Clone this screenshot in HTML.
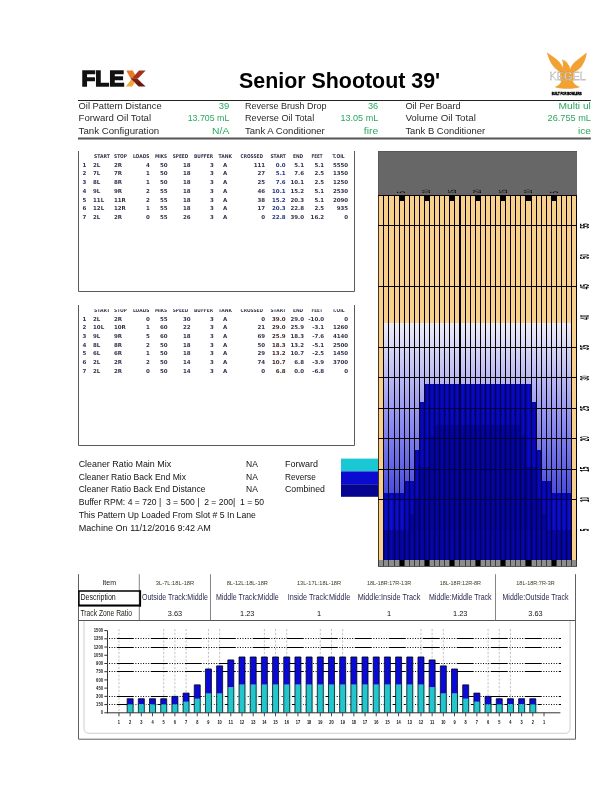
<!DOCTYPE html>
<html><head><meta charset="utf-8"><title>Senior Shootout 39'</title>
<style>
html,body{margin:0;padding:0;background:#fff;}
body{width:612px;height:792px;overflow:hidden;position:relative;font-family:"Liberation Sans", Arial, sans-serif;}
svg{position:absolute;left:0;top:0;will-change:transform;}
</style></head><body>
<svg width="612" height="792" viewBox="0 0 612 792" font-family="Liberation Sans, Arial, sans-serif">
<text x="78.60" y="109.00" font-size="9.0" fill="#2a2a2a" text-anchor="start" textLength="83.10" lengthAdjust="spacingAndGlyphs">Oil Pattern Distance</text>
<text x="229.30" y="109.00" font-size="9.0" fill="#2aa760" text-anchor="end" textLength="10.50" lengthAdjust="spacingAndGlyphs">39</text>
<text x="245.00" y="109.00" font-size="9.0" fill="#2a2a2a" text-anchor="start" textLength="81.50" lengthAdjust="spacingAndGlyphs">Reverse Brush Drop</text>
<text x="378.20" y="109.00" font-size="9.0" fill="#2aa760" text-anchor="end" textLength="10.20" lengthAdjust="spacingAndGlyphs">36</text>
<text x="405.40" y="109.00" font-size="9.0" fill="#2a2a2a" text-anchor="start" textLength="55.20" lengthAdjust="spacingAndGlyphs">Oil Per Board</text>
<text x="590.90" y="109.00" font-size="9.0" fill="#2aa760" text-anchor="end" textLength="32.50" lengthAdjust="spacingAndGlyphs">Multi ul</text>
<text x="78.60" y="121.00" font-size="9.0" fill="#2a2a2a" text-anchor="start" textLength="72.50" lengthAdjust="spacingAndGlyphs">Forward Oil Total</text>
<text x="229.30" y="121.00" font-size="9.0" fill="#2aa760" text-anchor="end" textLength="41.60" lengthAdjust="spacingAndGlyphs">13.705 mL</text>
<text x="245.00" y="121.00" font-size="9.0" fill="#2a2a2a" text-anchor="start" textLength="69.20" lengthAdjust="spacingAndGlyphs">Reverse Oil Total</text>
<text x="378.20" y="121.00" font-size="9.0" fill="#2aa760" text-anchor="end" textLength="37.70" lengthAdjust="spacingAndGlyphs">13.05 mL</text>
<text x="405.40" y="121.00" font-size="9.0" fill="#2a2a2a" text-anchor="start" textLength="70.50" lengthAdjust="spacingAndGlyphs">Volume Oil Total</text>
<text x="590.90" y="121.00" font-size="9.0" fill="#2aa760" text-anchor="end" textLength="43.30" lengthAdjust="spacingAndGlyphs">26.755 mL</text>
<text x="78.60" y="133.60" font-size="9.0" fill="#2a2a2a" text-anchor="start" textLength="80.60" lengthAdjust="spacingAndGlyphs">Tank Configuration</text>
<text x="229.30" y="133.60" font-size="9.0" fill="#2aa760" text-anchor="end" textLength="17.20" lengthAdjust="spacingAndGlyphs">N/A</text>
<text x="245.00" y="133.60" font-size="9.0" fill="#2a2a2a" text-anchor="start" textLength="79.80" lengthAdjust="spacingAndGlyphs">Tank A Conditioner</text>
<text x="378.20" y="133.60" font-size="9.0" fill="#2aa760" text-anchor="end" textLength="14.40" lengthAdjust="spacingAndGlyphs">fire</text>
<text x="405.40" y="133.60" font-size="9.0" fill="#2a2a2a" text-anchor="start" textLength="79.70" lengthAdjust="spacingAndGlyphs">Tank B Conditioner</text>
<text x="590.90" y="133.60" font-size="9.0" fill="#2aa760" text-anchor="end" textLength="13.00" lengthAdjust="spacingAndGlyphs">ice</text>
<line x1="78.00" y1="100.50" x2="590.80" y2="100.50" stroke="#222" stroke-width="1" />
<line x1="78.00" y1="138.60" x2="590.80" y2="138.60" stroke="#555" stroke-width="2" />
<text x="239.00" y="88.10" font-size="21.4" fill="#000" text-anchor="start" font-weight="bold" >Senior Shootout 39'</text>
<text x="93.90" y="158.20" font-size="5.3" fill="#34344f" font-weight="bold" font-family="DejaVu Sans, Verdana, sans-serif" textLength="15.90" lengthAdjust="spacingAndGlyphs">START</text>
<text x="114.00" y="158.20" font-size="5.3" fill="#34344f" font-weight="bold" font-family="DejaVu Sans, Verdana, sans-serif" textLength="13.00" lengthAdjust="spacingAndGlyphs">STOP</text>
<text x="132.90" y="158.20" font-size="5.3" fill="#34344f" font-weight="bold" font-family="DejaVu Sans, Verdana, sans-serif" textLength="16.60" lengthAdjust="spacingAndGlyphs">LOADS</text>
<text x="155.00" y="158.20" font-size="5.3" fill="#34344f" font-weight="bold" font-family="DejaVu Sans, Verdana, sans-serif" textLength="12.20" lengthAdjust="spacingAndGlyphs">MIKS</text>
<text x="172.80" y="158.20" font-size="5.3" fill="#34344f" font-weight="bold" font-family="DejaVu Sans, Verdana, sans-serif" textLength="15.50" lengthAdjust="spacingAndGlyphs">SPEED</text>
<text x="194.00" y="158.20" font-size="5.3" fill="#34344f" font-weight="bold" font-family="DejaVu Sans, Verdana, sans-serif" textLength="19.20" lengthAdjust="spacingAndGlyphs">BUFFER</text>
<text x="218.50" y="158.20" font-size="5.3" fill="#34344f" font-weight="bold" font-family="DejaVu Sans, Verdana, sans-serif" textLength="13.50" lengthAdjust="spacingAndGlyphs">TANK</text>
<text x="240.50" y="158.20" font-size="5.3" fill="#34344f" font-weight="bold" font-family="DejaVu Sans, Verdana, sans-serif" textLength="22.50" lengthAdjust="spacingAndGlyphs">CROSSED</text>
<text x="270.40" y="158.20" font-size="5.3" fill="#34344f" font-weight="bold" font-family="DejaVu Sans, Verdana, sans-serif" textLength="15.50" lengthAdjust="spacingAndGlyphs">START</text>
<text x="293.00" y="158.20" font-size="5.3" fill="#34344f" font-weight="bold" font-family="DejaVu Sans, Verdana, sans-serif" textLength="10.20" lengthAdjust="spacingAndGlyphs">END</text>
<text x="311.60" y="158.20" font-size="5.3" fill="#34344f" font-weight="bold" font-family="DejaVu Sans, Verdana, sans-serif" textLength="11.00" lengthAdjust="spacingAndGlyphs">FEET</text>
<text x="332.40" y="158.20" font-size="5.3" fill="#34344f" font-weight="bold" font-family="DejaVu Sans, Verdana, sans-serif" textLength="12.30" lengthAdjust="spacingAndGlyphs">T.OIL</text>
<text x="84.40" y="166.70" font-size="5.5" fill="#34344f" font-weight="bold" text-anchor="middle" font-family="DejaVu Sans, Verdana, sans-serif">1</text>
<text x="93.00" y="166.70" font-size="5.5" fill="#34344f" font-weight="bold" text-anchor="start" font-family="DejaVu Sans, Verdana, sans-serif">2L</text>
<text x="113.90" y="166.70" font-size="5.5" fill="#34344f" font-weight="bold" text-anchor="start" font-family="DejaVu Sans, Verdana, sans-serif">2R</text>
<text x="149.80" y="166.70" font-size="5.5" fill="#34344f" font-weight="bold" text-anchor="end" font-family="DejaVu Sans, Verdana, sans-serif">4</text>
<text x="167.60" y="166.70" font-size="5.5" fill="#34344f" font-weight="bold" text-anchor="end" font-family="DejaVu Sans, Verdana, sans-serif">50</text>
<text x="190.60" y="166.70" font-size="5.5" fill="#34344f" font-weight="bold" text-anchor="end" font-family="DejaVu Sans, Verdana, sans-serif">18</text>
<text x="213.80" y="166.70" font-size="5.5" fill="#34344f" font-weight="bold" text-anchor="end" font-family="DejaVu Sans, Verdana, sans-serif">3</text>
<text x="225.20" y="166.70" font-size="5.5" fill="#34344f" font-weight="bold" text-anchor="middle" font-family="DejaVu Sans, Verdana, sans-serif">A</text>
<text x="265.20" y="166.70" font-size="5.5" fill="#34344f" font-weight="bold" text-anchor="end" font-family="DejaVu Sans, Verdana, sans-serif">111</text>
<text x="285.60" y="166.70" font-size="5.5" fill="#27378a" font-weight="bold" text-anchor="end" font-family="DejaVu Sans, Verdana, sans-serif">0.0</text>
<text x="304.00" y="166.70" font-size="5.5" fill="#34344f" font-weight="bold" text-anchor="end" font-family="DejaVu Sans, Verdana, sans-serif">5.1</text>
<text x="324.20" y="166.70" font-size="5.5" fill="#34344f" font-weight="bold" text-anchor="end" font-family="DejaVu Sans, Verdana, sans-serif">5.1</text>
<text x="348.20" y="166.70" font-size="5.5" fill="#34344f" font-weight="bold" text-anchor="end" font-family="DejaVu Sans, Verdana, sans-serif">5550</text>
<text x="84.40" y="175.42" font-size="5.5" fill="#34344f" font-weight="bold" text-anchor="middle" font-family="DejaVu Sans, Verdana, sans-serif">2</text>
<text x="93.00" y="175.42" font-size="5.5" fill="#34344f" font-weight="bold" text-anchor="start" font-family="DejaVu Sans, Verdana, sans-serif">7L</text>
<text x="113.90" y="175.42" font-size="5.5" fill="#34344f" font-weight="bold" text-anchor="start" font-family="DejaVu Sans, Verdana, sans-serif">7R</text>
<text x="149.80" y="175.42" font-size="5.5" fill="#34344f" font-weight="bold" text-anchor="end" font-family="DejaVu Sans, Verdana, sans-serif">1</text>
<text x="167.60" y="175.42" font-size="5.5" fill="#34344f" font-weight="bold" text-anchor="end" font-family="DejaVu Sans, Verdana, sans-serif">50</text>
<text x="190.60" y="175.42" font-size="5.5" fill="#34344f" font-weight="bold" text-anchor="end" font-family="DejaVu Sans, Verdana, sans-serif">18</text>
<text x="213.80" y="175.42" font-size="5.5" fill="#34344f" font-weight="bold" text-anchor="end" font-family="DejaVu Sans, Verdana, sans-serif">3</text>
<text x="225.20" y="175.42" font-size="5.5" fill="#34344f" font-weight="bold" text-anchor="middle" font-family="DejaVu Sans, Verdana, sans-serif">A</text>
<text x="265.20" y="175.42" font-size="5.5" fill="#34344f" font-weight="bold" text-anchor="end" font-family="DejaVu Sans, Verdana, sans-serif">27</text>
<text x="285.60" y="175.42" font-size="5.5" fill="#27378a" font-weight="bold" text-anchor="end" font-family="DejaVu Sans, Verdana, sans-serif">5.1</text>
<text x="304.00" y="175.42" font-size="5.5" fill="#34344f" font-weight="bold" text-anchor="end" font-family="DejaVu Sans, Verdana, sans-serif">7.6</text>
<text x="324.20" y="175.42" font-size="5.5" fill="#34344f" font-weight="bold" text-anchor="end" font-family="DejaVu Sans, Verdana, sans-serif">2.5</text>
<text x="348.20" y="175.42" font-size="5.5" fill="#34344f" font-weight="bold" text-anchor="end" font-family="DejaVu Sans, Verdana, sans-serif">1350</text>
<text x="84.40" y="184.14" font-size="5.5" fill="#34344f" font-weight="bold" text-anchor="middle" font-family="DejaVu Sans, Verdana, sans-serif">3</text>
<text x="93.00" y="184.14" font-size="5.5" fill="#34344f" font-weight="bold" text-anchor="start" font-family="DejaVu Sans, Verdana, sans-serif">8L</text>
<text x="113.90" y="184.14" font-size="5.5" fill="#34344f" font-weight="bold" text-anchor="start" font-family="DejaVu Sans, Verdana, sans-serif">8R</text>
<text x="149.80" y="184.14" font-size="5.5" fill="#34344f" font-weight="bold" text-anchor="end" font-family="DejaVu Sans, Verdana, sans-serif">1</text>
<text x="167.60" y="184.14" font-size="5.5" fill="#34344f" font-weight="bold" text-anchor="end" font-family="DejaVu Sans, Verdana, sans-serif">50</text>
<text x="190.60" y="184.14" font-size="5.5" fill="#34344f" font-weight="bold" text-anchor="end" font-family="DejaVu Sans, Verdana, sans-serif">18</text>
<text x="213.80" y="184.14" font-size="5.5" fill="#34344f" font-weight="bold" text-anchor="end" font-family="DejaVu Sans, Verdana, sans-serif">3</text>
<text x="225.20" y="184.14" font-size="5.5" fill="#34344f" font-weight="bold" text-anchor="middle" font-family="DejaVu Sans, Verdana, sans-serif">A</text>
<text x="265.20" y="184.14" font-size="5.5" fill="#34344f" font-weight="bold" text-anchor="end" font-family="DejaVu Sans, Verdana, sans-serif">25</text>
<text x="285.60" y="184.14" font-size="5.5" fill="#27378a" font-weight="bold" text-anchor="end" font-family="DejaVu Sans, Verdana, sans-serif">7.6</text>
<text x="304.00" y="184.14" font-size="5.5" fill="#34344f" font-weight="bold" text-anchor="end" font-family="DejaVu Sans, Verdana, sans-serif">10.1</text>
<text x="324.20" y="184.14" font-size="5.5" fill="#34344f" font-weight="bold" text-anchor="end" font-family="DejaVu Sans, Verdana, sans-serif">2.5</text>
<text x="348.20" y="184.14" font-size="5.5" fill="#34344f" font-weight="bold" text-anchor="end" font-family="DejaVu Sans, Verdana, sans-serif">1250</text>
<text x="84.40" y="192.86" font-size="5.5" fill="#34344f" font-weight="bold" text-anchor="middle" font-family="DejaVu Sans, Verdana, sans-serif">4</text>
<text x="93.00" y="192.86" font-size="5.5" fill="#34344f" font-weight="bold" text-anchor="start" font-family="DejaVu Sans, Verdana, sans-serif">9L</text>
<text x="113.90" y="192.86" font-size="5.5" fill="#34344f" font-weight="bold" text-anchor="start" font-family="DejaVu Sans, Verdana, sans-serif">9R</text>
<text x="149.80" y="192.86" font-size="5.5" fill="#34344f" font-weight="bold" text-anchor="end" font-family="DejaVu Sans, Verdana, sans-serif">2</text>
<text x="167.60" y="192.86" font-size="5.5" fill="#34344f" font-weight="bold" text-anchor="end" font-family="DejaVu Sans, Verdana, sans-serif">55</text>
<text x="190.60" y="192.86" font-size="5.5" fill="#34344f" font-weight="bold" text-anchor="end" font-family="DejaVu Sans, Verdana, sans-serif">18</text>
<text x="213.80" y="192.86" font-size="5.5" fill="#34344f" font-weight="bold" text-anchor="end" font-family="DejaVu Sans, Verdana, sans-serif">3</text>
<text x="225.20" y="192.86" font-size="5.5" fill="#34344f" font-weight="bold" text-anchor="middle" font-family="DejaVu Sans, Verdana, sans-serif">A</text>
<text x="265.20" y="192.86" font-size="5.5" fill="#34344f" font-weight="bold" text-anchor="end" font-family="DejaVu Sans, Verdana, sans-serif">46</text>
<text x="285.60" y="192.86" font-size="5.5" fill="#27378a" font-weight="bold" text-anchor="end" font-family="DejaVu Sans, Verdana, sans-serif">10.1</text>
<text x="304.00" y="192.86" font-size="5.5" fill="#34344f" font-weight="bold" text-anchor="end" font-family="DejaVu Sans, Verdana, sans-serif">15.2</text>
<text x="324.20" y="192.86" font-size="5.5" fill="#34344f" font-weight="bold" text-anchor="end" font-family="DejaVu Sans, Verdana, sans-serif">5.1</text>
<text x="348.20" y="192.86" font-size="5.5" fill="#34344f" font-weight="bold" text-anchor="end" font-family="DejaVu Sans, Verdana, sans-serif">2530</text>
<text x="84.40" y="201.58" font-size="5.5" fill="#34344f" font-weight="bold" text-anchor="middle" font-family="DejaVu Sans, Verdana, sans-serif">5</text>
<text x="93.00" y="201.58" font-size="5.5" fill="#34344f" font-weight="bold" text-anchor="start" font-family="DejaVu Sans, Verdana, sans-serif">11L</text>
<text x="113.90" y="201.58" font-size="5.5" fill="#34344f" font-weight="bold" text-anchor="start" font-family="DejaVu Sans, Verdana, sans-serif">11R</text>
<text x="149.80" y="201.58" font-size="5.5" fill="#34344f" font-weight="bold" text-anchor="end" font-family="DejaVu Sans, Verdana, sans-serif">2</text>
<text x="167.60" y="201.58" font-size="5.5" fill="#34344f" font-weight="bold" text-anchor="end" font-family="DejaVu Sans, Verdana, sans-serif">55</text>
<text x="190.60" y="201.58" font-size="5.5" fill="#34344f" font-weight="bold" text-anchor="end" font-family="DejaVu Sans, Verdana, sans-serif">18</text>
<text x="213.80" y="201.58" font-size="5.5" fill="#34344f" font-weight="bold" text-anchor="end" font-family="DejaVu Sans, Verdana, sans-serif">3</text>
<text x="225.20" y="201.58" font-size="5.5" fill="#34344f" font-weight="bold" text-anchor="middle" font-family="DejaVu Sans, Verdana, sans-serif">A</text>
<text x="265.20" y="201.58" font-size="5.5" fill="#34344f" font-weight="bold" text-anchor="end" font-family="DejaVu Sans, Verdana, sans-serif">38</text>
<text x="285.60" y="201.58" font-size="5.5" fill="#27378a" font-weight="bold" text-anchor="end" font-family="DejaVu Sans, Verdana, sans-serif">15.2</text>
<text x="304.00" y="201.58" font-size="5.5" fill="#34344f" font-weight="bold" text-anchor="end" font-family="DejaVu Sans, Verdana, sans-serif">20.3</text>
<text x="324.20" y="201.58" font-size="5.5" fill="#34344f" font-weight="bold" text-anchor="end" font-family="DejaVu Sans, Verdana, sans-serif">5.1</text>
<text x="348.20" y="201.58" font-size="5.5" fill="#34344f" font-weight="bold" text-anchor="end" font-family="DejaVu Sans, Verdana, sans-serif">2090</text>
<text x="84.40" y="210.30" font-size="5.5" fill="#34344f" font-weight="bold" text-anchor="middle" font-family="DejaVu Sans, Verdana, sans-serif">6</text>
<text x="93.00" y="210.30" font-size="5.5" fill="#34344f" font-weight="bold" text-anchor="start" font-family="DejaVu Sans, Verdana, sans-serif">12L</text>
<text x="113.90" y="210.30" font-size="5.5" fill="#34344f" font-weight="bold" text-anchor="start" font-family="DejaVu Sans, Verdana, sans-serif">12R</text>
<text x="149.80" y="210.30" font-size="5.5" fill="#34344f" font-weight="bold" text-anchor="end" font-family="DejaVu Sans, Verdana, sans-serif">1</text>
<text x="167.60" y="210.30" font-size="5.5" fill="#34344f" font-weight="bold" text-anchor="end" font-family="DejaVu Sans, Verdana, sans-serif">55</text>
<text x="190.60" y="210.30" font-size="5.5" fill="#34344f" font-weight="bold" text-anchor="end" font-family="DejaVu Sans, Verdana, sans-serif">18</text>
<text x="213.80" y="210.30" font-size="5.5" fill="#34344f" font-weight="bold" text-anchor="end" font-family="DejaVu Sans, Verdana, sans-serif">3</text>
<text x="225.20" y="210.30" font-size="5.5" fill="#34344f" font-weight="bold" text-anchor="middle" font-family="DejaVu Sans, Verdana, sans-serif">A</text>
<text x="265.20" y="210.30" font-size="5.5" fill="#34344f" font-weight="bold" text-anchor="end" font-family="DejaVu Sans, Verdana, sans-serif">17</text>
<text x="285.60" y="210.30" font-size="5.5" fill="#27378a" font-weight="bold" text-anchor="end" font-family="DejaVu Sans, Verdana, sans-serif">20.3</text>
<text x="304.00" y="210.30" font-size="5.5" fill="#34344f" font-weight="bold" text-anchor="end" font-family="DejaVu Sans, Verdana, sans-serif">22.8</text>
<text x="324.20" y="210.30" font-size="5.5" fill="#34344f" font-weight="bold" text-anchor="end" font-family="DejaVu Sans, Verdana, sans-serif">2.5</text>
<text x="348.20" y="210.30" font-size="5.5" fill="#34344f" font-weight="bold" text-anchor="end" font-family="DejaVu Sans, Verdana, sans-serif">935</text>
<text x="84.40" y="219.02" font-size="5.5" fill="#34344f" font-weight="bold" text-anchor="middle" font-family="DejaVu Sans, Verdana, sans-serif">7</text>
<text x="93.00" y="219.02" font-size="5.5" fill="#34344f" font-weight="bold" text-anchor="start" font-family="DejaVu Sans, Verdana, sans-serif">2L</text>
<text x="113.90" y="219.02" font-size="5.5" fill="#34344f" font-weight="bold" text-anchor="start" font-family="DejaVu Sans, Verdana, sans-serif">2R</text>
<text x="149.80" y="219.02" font-size="5.5" fill="#34344f" font-weight="bold" text-anchor="end" font-family="DejaVu Sans, Verdana, sans-serif">0</text>
<text x="167.60" y="219.02" font-size="5.5" fill="#34344f" font-weight="bold" text-anchor="end" font-family="DejaVu Sans, Verdana, sans-serif">55</text>
<text x="190.60" y="219.02" font-size="5.5" fill="#34344f" font-weight="bold" text-anchor="end" font-family="DejaVu Sans, Verdana, sans-serif">26</text>
<text x="213.80" y="219.02" font-size="5.5" fill="#34344f" font-weight="bold" text-anchor="end" font-family="DejaVu Sans, Verdana, sans-serif">3</text>
<text x="225.20" y="219.02" font-size="5.5" fill="#34344f" font-weight="bold" text-anchor="middle" font-family="DejaVu Sans, Verdana, sans-serif">A</text>
<text x="265.20" y="219.02" font-size="5.5" fill="#34344f" font-weight="bold" text-anchor="end" font-family="DejaVu Sans, Verdana, sans-serif">0</text>
<text x="285.60" y="219.02" font-size="5.5" fill="#27378a" font-weight="bold" text-anchor="end" font-family="DejaVu Sans, Verdana, sans-serif">22.8</text>
<text x="304.00" y="219.02" font-size="5.5" fill="#34344f" font-weight="bold" text-anchor="end" font-family="DejaVu Sans, Verdana, sans-serif">39.0</text>
<text x="324.20" y="219.02" font-size="5.5" fill="#34344f" font-weight="bold" text-anchor="end" font-family="DejaVu Sans, Verdana, sans-serif">16.2</text>
<text x="348.20" y="219.02" font-size="5.5" fill="#34344f" font-weight="bold" text-anchor="end" font-family="DejaVu Sans, Verdana, sans-serif">0</text>
<clipPath id="hc2"><rect x="0" y="309.2" width="612" height="10"/></clipPath><g clip-path="url(#hc2)">
<text x="93.90" y="312.00" font-size="5.3" fill="#34344f" font-weight="bold" font-family="DejaVu Sans, Verdana, sans-serif" textLength="15.90" lengthAdjust="spacingAndGlyphs">START</text>
<text x="114.00" y="312.00" font-size="5.3" fill="#34344f" font-weight="bold" font-family="DejaVu Sans, Verdana, sans-serif" textLength="13.00" lengthAdjust="spacingAndGlyphs">STOP</text>
<text x="132.90" y="312.00" font-size="5.3" fill="#34344f" font-weight="bold" font-family="DejaVu Sans, Verdana, sans-serif" textLength="16.60" lengthAdjust="spacingAndGlyphs">LOADS</text>
<text x="155.00" y="312.00" font-size="5.3" fill="#34344f" font-weight="bold" font-family="DejaVu Sans, Verdana, sans-serif" textLength="12.20" lengthAdjust="spacingAndGlyphs">MIKS</text>
<text x="172.80" y="312.00" font-size="5.3" fill="#34344f" font-weight="bold" font-family="DejaVu Sans, Verdana, sans-serif" textLength="15.50" lengthAdjust="spacingAndGlyphs">SPEED</text>
<text x="194.00" y="312.00" font-size="5.3" fill="#34344f" font-weight="bold" font-family="DejaVu Sans, Verdana, sans-serif" textLength="19.20" lengthAdjust="spacingAndGlyphs">BUFFER</text>
<text x="218.50" y="312.00" font-size="5.3" fill="#34344f" font-weight="bold" font-family="DejaVu Sans, Verdana, sans-serif" textLength="13.50" lengthAdjust="spacingAndGlyphs">TANK</text>
<text x="240.50" y="312.00" font-size="5.3" fill="#34344f" font-weight="bold" font-family="DejaVu Sans, Verdana, sans-serif" textLength="22.50" lengthAdjust="spacingAndGlyphs">CROSSED</text>
<text x="270.40" y="312.00" font-size="5.3" fill="#34344f" font-weight="bold" font-family="DejaVu Sans, Verdana, sans-serif" textLength="15.50" lengthAdjust="spacingAndGlyphs">START</text>
<text x="293.00" y="312.00" font-size="5.3" fill="#34344f" font-weight="bold" font-family="DejaVu Sans, Verdana, sans-serif" textLength="10.20" lengthAdjust="spacingAndGlyphs">END</text>
<text x="311.60" y="312.00" font-size="5.3" fill="#34344f" font-weight="bold" font-family="DejaVu Sans, Verdana, sans-serif" textLength="11.00" lengthAdjust="spacingAndGlyphs">FEET</text>
<text x="332.40" y="312.00" font-size="5.3" fill="#34344f" font-weight="bold" font-family="DejaVu Sans, Verdana, sans-serif" textLength="12.30" lengthAdjust="spacingAndGlyphs">T.OIL</text>
</g>
<text x="84.40" y="320.50" font-size="5.5" fill="#34344f" font-weight="bold" text-anchor="middle" font-family="DejaVu Sans, Verdana, sans-serif">1</text>
<text x="93.00" y="320.50" font-size="5.5" fill="#34344f" font-weight="bold" text-anchor="start" font-family="DejaVu Sans, Verdana, sans-serif">2L</text>
<text x="113.90" y="320.50" font-size="5.5" fill="#34344f" font-weight="bold" text-anchor="start" font-family="DejaVu Sans, Verdana, sans-serif">2R</text>
<text x="149.80" y="320.50" font-size="5.5" fill="#34344f" font-weight="bold" text-anchor="end" font-family="DejaVu Sans, Verdana, sans-serif">0</text>
<text x="167.60" y="320.50" font-size="5.5" fill="#34344f" font-weight="bold" text-anchor="end" font-family="DejaVu Sans, Verdana, sans-serif">55</text>
<text x="190.60" y="320.50" font-size="5.5" fill="#34344f" font-weight="bold" text-anchor="end" font-family="DejaVu Sans, Verdana, sans-serif">30</text>
<text x="213.80" y="320.50" font-size="5.5" fill="#34344f" font-weight="bold" text-anchor="end" font-family="DejaVu Sans, Verdana, sans-serif">3</text>
<text x="225.20" y="320.50" font-size="5.5" fill="#34344f" font-weight="bold" text-anchor="middle" font-family="DejaVu Sans, Verdana, sans-serif">A</text>
<text x="265.20" y="320.50" font-size="5.5" fill="#34344f" font-weight="bold" text-anchor="end" font-family="DejaVu Sans, Verdana, sans-serif">0</text>
<text x="285.60" y="320.50" font-size="5.5" fill="#4a2a2a" font-weight="bold" text-anchor="end" font-family="DejaVu Sans, Verdana, sans-serif">39.0</text>
<text x="304.00" y="320.50" font-size="5.5" fill="#34344f" font-weight="bold" text-anchor="end" font-family="DejaVu Sans, Verdana, sans-serif">29.0</text>
<text x="324.20" y="320.50" font-size="5.5" fill="#34344f" font-weight="bold" text-anchor="end" font-family="DejaVu Sans, Verdana, sans-serif">-10.0</text>
<text x="348.20" y="320.50" font-size="5.5" fill="#34344f" font-weight="bold" text-anchor="end" font-family="DejaVu Sans, Verdana, sans-serif">0</text>
<text x="84.40" y="329.22" font-size="5.5" fill="#34344f" font-weight="bold" text-anchor="middle" font-family="DejaVu Sans, Verdana, sans-serif">2</text>
<text x="93.00" y="329.22" font-size="5.5" fill="#34344f" font-weight="bold" text-anchor="start" font-family="DejaVu Sans, Verdana, sans-serif">10L</text>
<text x="113.90" y="329.22" font-size="5.5" fill="#34344f" font-weight="bold" text-anchor="start" font-family="DejaVu Sans, Verdana, sans-serif">10R</text>
<text x="149.80" y="329.22" font-size="5.5" fill="#34344f" font-weight="bold" text-anchor="end" font-family="DejaVu Sans, Verdana, sans-serif">1</text>
<text x="167.60" y="329.22" font-size="5.5" fill="#34344f" font-weight="bold" text-anchor="end" font-family="DejaVu Sans, Verdana, sans-serif">60</text>
<text x="190.60" y="329.22" font-size="5.5" fill="#34344f" font-weight="bold" text-anchor="end" font-family="DejaVu Sans, Verdana, sans-serif">22</text>
<text x="213.80" y="329.22" font-size="5.5" fill="#34344f" font-weight="bold" text-anchor="end" font-family="DejaVu Sans, Verdana, sans-serif">3</text>
<text x="225.20" y="329.22" font-size="5.5" fill="#34344f" font-weight="bold" text-anchor="middle" font-family="DejaVu Sans, Verdana, sans-serif">A</text>
<text x="265.20" y="329.22" font-size="5.5" fill="#34344f" font-weight="bold" text-anchor="end" font-family="DejaVu Sans, Verdana, sans-serif">21</text>
<text x="285.60" y="329.22" font-size="5.5" fill="#4a2a2a" font-weight="bold" text-anchor="end" font-family="DejaVu Sans, Verdana, sans-serif">29.0</text>
<text x="304.00" y="329.22" font-size="5.5" fill="#34344f" font-weight="bold" text-anchor="end" font-family="DejaVu Sans, Verdana, sans-serif">25.9</text>
<text x="324.20" y="329.22" font-size="5.5" fill="#34344f" font-weight="bold" text-anchor="end" font-family="DejaVu Sans, Verdana, sans-serif">-3.1</text>
<text x="348.20" y="329.22" font-size="5.5" fill="#34344f" font-weight="bold" text-anchor="end" font-family="DejaVu Sans, Verdana, sans-serif">1260</text>
<text x="84.40" y="337.94" font-size="5.5" fill="#34344f" font-weight="bold" text-anchor="middle" font-family="DejaVu Sans, Verdana, sans-serif">3</text>
<text x="93.00" y="337.94" font-size="5.5" fill="#34344f" font-weight="bold" text-anchor="start" font-family="DejaVu Sans, Verdana, sans-serif">9L</text>
<text x="113.90" y="337.94" font-size="5.5" fill="#34344f" font-weight="bold" text-anchor="start" font-family="DejaVu Sans, Verdana, sans-serif">9R</text>
<text x="149.80" y="337.94" font-size="5.5" fill="#34344f" font-weight="bold" text-anchor="end" font-family="DejaVu Sans, Verdana, sans-serif">5</text>
<text x="167.60" y="337.94" font-size="5.5" fill="#34344f" font-weight="bold" text-anchor="end" font-family="DejaVu Sans, Verdana, sans-serif">60</text>
<text x="190.60" y="337.94" font-size="5.5" fill="#34344f" font-weight="bold" text-anchor="end" font-family="DejaVu Sans, Verdana, sans-serif">18</text>
<text x="213.80" y="337.94" font-size="5.5" fill="#34344f" font-weight="bold" text-anchor="end" font-family="DejaVu Sans, Verdana, sans-serif">3</text>
<text x="225.20" y="337.94" font-size="5.5" fill="#34344f" font-weight="bold" text-anchor="middle" font-family="DejaVu Sans, Verdana, sans-serif">A</text>
<text x="265.20" y="337.94" font-size="5.5" fill="#34344f" font-weight="bold" text-anchor="end" font-family="DejaVu Sans, Verdana, sans-serif">69</text>
<text x="285.60" y="337.94" font-size="5.5" fill="#4a2a2a" font-weight="bold" text-anchor="end" font-family="DejaVu Sans, Verdana, sans-serif">25.9</text>
<text x="304.00" y="337.94" font-size="5.5" fill="#34344f" font-weight="bold" text-anchor="end" font-family="DejaVu Sans, Verdana, sans-serif">18.3</text>
<text x="324.20" y="337.94" font-size="5.5" fill="#34344f" font-weight="bold" text-anchor="end" font-family="DejaVu Sans, Verdana, sans-serif">-7.6</text>
<text x="348.20" y="337.94" font-size="5.5" fill="#34344f" font-weight="bold" text-anchor="end" font-family="DejaVu Sans, Verdana, sans-serif">4140</text>
<text x="84.40" y="346.66" font-size="5.5" fill="#34344f" font-weight="bold" text-anchor="middle" font-family="DejaVu Sans, Verdana, sans-serif">4</text>
<text x="93.00" y="346.66" font-size="5.5" fill="#34344f" font-weight="bold" text-anchor="start" font-family="DejaVu Sans, Verdana, sans-serif">8L</text>
<text x="113.90" y="346.66" font-size="5.5" fill="#34344f" font-weight="bold" text-anchor="start" font-family="DejaVu Sans, Verdana, sans-serif">8R</text>
<text x="149.80" y="346.66" font-size="5.5" fill="#34344f" font-weight="bold" text-anchor="end" font-family="DejaVu Sans, Verdana, sans-serif">2</text>
<text x="167.60" y="346.66" font-size="5.5" fill="#34344f" font-weight="bold" text-anchor="end" font-family="DejaVu Sans, Verdana, sans-serif">50</text>
<text x="190.60" y="346.66" font-size="5.5" fill="#34344f" font-weight="bold" text-anchor="end" font-family="DejaVu Sans, Verdana, sans-serif">18</text>
<text x="213.80" y="346.66" font-size="5.5" fill="#34344f" font-weight="bold" text-anchor="end" font-family="DejaVu Sans, Verdana, sans-serif">3</text>
<text x="225.20" y="346.66" font-size="5.5" fill="#34344f" font-weight="bold" text-anchor="middle" font-family="DejaVu Sans, Verdana, sans-serif">A</text>
<text x="265.20" y="346.66" font-size="5.5" fill="#34344f" font-weight="bold" text-anchor="end" font-family="DejaVu Sans, Verdana, sans-serif">50</text>
<text x="285.60" y="346.66" font-size="5.5" fill="#4a2a2a" font-weight="bold" text-anchor="end" font-family="DejaVu Sans, Verdana, sans-serif">18.3</text>
<text x="304.00" y="346.66" font-size="5.5" fill="#34344f" font-weight="bold" text-anchor="end" font-family="DejaVu Sans, Verdana, sans-serif">13.2</text>
<text x="324.20" y="346.66" font-size="5.5" fill="#34344f" font-weight="bold" text-anchor="end" font-family="DejaVu Sans, Verdana, sans-serif">-5.1</text>
<text x="348.20" y="346.66" font-size="5.5" fill="#34344f" font-weight="bold" text-anchor="end" font-family="DejaVu Sans, Verdana, sans-serif">2500</text>
<text x="84.40" y="355.38" font-size="5.5" fill="#34344f" font-weight="bold" text-anchor="middle" font-family="DejaVu Sans, Verdana, sans-serif">5</text>
<text x="93.00" y="355.38" font-size="5.5" fill="#34344f" font-weight="bold" text-anchor="start" font-family="DejaVu Sans, Verdana, sans-serif">6L</text>
<text x="113.90" y="355.38" font-size="5.5" fill="#34344f" font-weight="bold" text-anchor="start" font-family="DejaVu Sans, Verdana, sans-serif">6R</text>
<text x="149.80" y="355.38" font-size="5.5" fill="#34344f" font-weight="bold" text-anchor="end" font-family="DejaVu Sans, Verdana, sans-serif">1</text>
<text x="167.60" y="355.38" font-size="5.5" fill="#34344f" font-weight="bold" text-anchor="end" font-family="DejaVu Sans, Verdana, sans-serif">50</text>
<text x="190.60" y="355.38" font-size="5.5" fill="#34344f" font-weight="bold" text-anchor="end" font-family="DejaVu Sans, Verdana, sans-serif">18</text>
<text x="213.80" y="355.38" font-size="5.5" fill="#34344f" font-weight="bold" text-anchor="end" font-family="DejaVu Sans, Verdana, sans-serif">3</text>
<text x="225.20" y="355.38" font-size="5.5" fill="#34344f" font-weight="bold" text-anchor="middle" font-family="DejaVu Sans, Verdana, sans-serif">A</text>
<text x="265.20" y="355.38" font-size="5.5" fill="#34344f" font-weight="bold" text-anchor="end" font-family="DejaVu Sans, Verdana, sans-serif">29</text>
<text x="285.60" y="355.38" font-size="5.5" fill="#4a2a2a" font-weight="bold" text-anchor="end" font-family="DejaVu Sans, Verdana, sans-serif">13.2</text>
<text x="304.00" y="355.38" font-size="5.5" fill="#34344f" font-weight="bold" text-anchor="end" font-family="DejaVu Sans, Verdana, sans-serif">10.7</text>
<text x="324.20" y="355.38" font-size="5.5" fill="#34344f" font-weight="bold" text-anchor="end" font-family="DejaVu Sans, Verdana, sans-serif">-2.5</text>
<text x="348.20" y="355.38" font-size="5.5" fill="#34344f" font-weight="bold" text-anchor="end" font-family="DejaVu Sans, Verdana, sans-serif">1450</text>
<text x="84.40" y="364.10" font-size="5.5" fill="#34344f" font-weight="bold" text-anchor="middle" font-family="DejaVu Sans, Verdana, sans-serif">6</text>
<text x="93.00" y="364.10" font-size="5.5" fill="#34344f" font-weight="bold" text-anchor="start" font-family="DejaVu Sans, Verdana, sans-serif">2L</text>
<text x="113.90" y="364.10" font-size="5.5" fill="#34344f" font-weight="bold" text-anchor="start" font-family="DejaVu Sans, Verdana, sans-serif">2R</text>
<text x="149.80" y="364.10" font-size="5.5" fill="#34344f" font-weight="bold" text-anchor="end" font-family="DejaVu Sans, Verdana, sans-serif">2</text>
<text x="167.60" y="364.10" font-size="5.5" fill="#34344f" font-weight="bold" text-anchor="end" font-family="DejaVu Sans, Verdana, sans-serif">50</text>
<text x="190.60" y="364.10" font-size="5.5" fill="#34344f" font-weight="bold" text-anchor="end" font-family="DejaVu Sans, Verdana, sans-serif">14</text>
<text x="213.80" y="364.10" font-size="5.5" fill="#34344f" font-weight="bold" text-anchor="end" font-family="DejaVu Sans, Verdana, sans-serif">3</text>
<text x="225.20" y="364.10" font-size="5.5" fill="#34344f" font-weight="bold" text-anchor="middle" font-family="DejaVu Sans, Verdana, sans-serif">A</text>
<text x="265.20" y="364.10" font-size="5.5" fill="#34344f" font-weight="bold" text-anchor="end" font-family="DejaVu Sans, Verdana, sans-serif">74</text>
<text x="285.60" y="364.10" font-size="5.5" fill="#4a2a2a" font-weight="bold" text-anchor="end" font-family="DejaVu Sans, Verdana, sans-serif">10.7</text>
<text x="304.00" y="364.10" font-size="5.5" fill="#34344f" font-weight="bold" text-anchor="end" font-family="DejaVu Sans, Verdana, sans-serif">6.8</text>
<text x="324.20" y="364.10" font-size="5.5" fill="#34344f" font-weight="bold" text-anchor="end" font-family="DejaVu Sans, Verdana, sans-serif">-3.9</text>
<text x="348.20" y="364.10" font-size="5.5" fill="#34344f" font-weight="bold" text-anchor="end" font-family="DejaVu Sans, Verdana, sans-serif">3700</text>
<text x="84.40" y="372.82" font-size="5.5" fill="#34344f" font-weight="bold" text-anchor="middle" font-family="DejaVu Sans, Verdana, sans-serif">7</text>
<text x="93.00" y="372.82" font-size="5.5" fill="#34344f" font-weight="bold" text-anchor="start" font-family="DejaVu Sans, Verdana, sans-serif">2L</text>
<text x="113.90" y="372.82" font-size="5.5" fill="#34344f" font-weight="bold" text-anchor="start" font-family="DejaVu Sans, Verdana, sans-serif">2R</text>
<text x="149.80" y="372.82" font-size="5.5" fill="#34344f" font-weight="bold" text-anchor="end" font-family="DejaVu Sans, Verdana, sans-serif">0</text>
<text x="167.60" y="372.82" font-size="5.5" fill="#34344f" font-weight="bold" text-anchor="end" font-family="DejaVu Sans, Verdana, sans-serif">50</text>
<text x="190.60" y="372.82" font-size="5.5" fill="#34344f" font-weight="bold" text-anchor="end" font-family="DejaVu Sans, Verdana, sans-serif">14</text>
<text x="213.80" y="372.82" font-size="5.5" fill="#34344f" font-weight="bold" text-anchor="end" font-family="DejaVu Sans, Verdana, sans-serif">3</text>
<text x="225.20" y="372.82" font-size="5.5" fill="#34344f" font-weight="bold" text-anchor="middle" font-family="DejaVu Sans, Verdana, sans-serif">A</text>
<text x="265.20" y="372.82" font-size="5.5" fill="#34344f" font-weight="bold" text-anchor="end" font-family="DejaVu Sans, Verdana, sans-serif">0</text>
<text x="285.60" y="372.82" font-size="5.5" fill="#4a2a2a" font-weight="bold" text-anchor="end" font-family="DejaVu Sans, Verdana, sans-serif">6.8</text>
<text x="304.00" y="372.82" font-size="5.5" fill="#34344f" font-weight="bold" text-anchor="end" font-family="DejaVu Sans, Verdana, sans-serif">0.0</text>
<text x="324.20" y="372.82" font-size="5.5" fill="#34344f" font-weight="bold" text-anchor="end" font-family="DejaVu Sans, Verdana, sans-serif">-6.8</text>
<text x="348.20" y="372.82" font-size="5.5" fill="#34344f" font-weight="bold" text-anchor="end" font-family="DejaVu Sans, Verdana, sans-serif">0</text>
<path d="M78.5 151 V291.5 H354.5 V151" fill="none" stroke="#5a5a5a" stroke-width="1"/>
<path d="M78.5 305 V445.5 H354.5 V305" fill="none" stroke="#5a5a5a" stroke-width="1"/>
<text x="78.70" y="466.80" font-size="8.6" fill="#111" text-anchor="start" textLength="92.40" lengthAdjust="spacingAndGlyphs">Cleaner Ratio Main Mix</text>
<text x="246.10" y="466.80" font-size="8.6" fill="#111" text-anchor="start" textLength="11.80" lengthAdjust="spacingAndGlyphs">NA</text>
<text x="285.00" y="466.80" font-size="8.6" fill="#111" text-anchor="start" textLength="33.00" lengthAdjust="spacingAndGlyphs">Forward</text>
<text x="78.70" y="479.60" font-size="8.6" fill="#111" text-anchor="start" textLength="107.30" lengthAdjust="spacingAndGlyphs">Cleaner Ratio Back End Mix</text>
<text x="246.10" y="479.60" font-size="8.6" fill="#111" text-anchor="start" textLength="11.80" lengthAdjust="spacingAndGlyphs">NA</text>
<text x="285.00" y="479.60" font-size="8.6" fill="#111" text-anchor="start" textLength="30.80" lengthAdjust="spacingAndGlyphs">Reverse</text>
<text x="78.70" y="492.40" font-size="8.6" fill="#111" text-anchor="start" textLength="126.90" lengthAdjust="spacingAndGlyphs">Cleaner Ratio Back End Distance</text>
<text x="246.10" y="492.40" font-size="8.6" fill="#111" text-anchor="start" textLength="11.80" lengthAdjust="spacingAndGlyphs">NA</text>
<text x="285.00" y="492.40" font-size="8.6" fill="#111" text-anchor="start" textLength="39.90" lengthAdjust="spacingAndGlyphs">Combined</text>
<text x="78.70" y="505.40" font-size="8.6" fill="#111" style="white-space:pre" textLength="185.4" lengthAdjust="spacingAndGlyphs">Buffer RPM: 4 = 720 |  3 = 500 |  2 = 200|  1 = 50</text>
<text x="78.70" y="517.80" font-size="8.6" fill="#111" text-anchor="start" textLength="177.20" lengthAdjust="spacingAndGlyphs">This Pattern Up Loaded From Slot # 5 In Lane</text>
<text x="78.70" y="530.60" font-size="8.6" fill="#111" text-anchor="start" textLength="132.10" lengthAdjust="spacingAndGlyphs">Machine On 11/12/2016 9:42 AM</text>
<rect x="341.00" y="458.60" width="37.00" height="12.80" fill="#19c8d2" />
<rect x="341.00" y="471.40" width="37.00" height="12.80" fill="#0a0ad0" />
<rect x="341.00" y="484.20" width="37.00" height="12.60" fill="#05058f" />
<rect x="378.00" y="151.00" width="199.00" height="45.00" fill="#676767" />
<rect x="378.00" y="196.00" width="199.00" height="364.00" fill="#f8d08e" />
<defs><linearGradient id="lav" gradientUnits="userSpaceOnUse" x1="0" y1="323" x2="0" y2="560"><stop offset="-0.0014" stop-color="#ececf8"/><stop offset="0.1526" stop-color="#cbcbf5"/><stop offset="0.4091" stop-color="#8f8ff0"/><stop offset="0.6913" stop-color="#4f51e0"/><stop offset="0.9992" stop-color="#2020d0"/></linearGradient></defs>
<rect x="383" y="323" width="188" height="237" fill="url(#lav)"/>
<rect x="383.00" y="493.00" width="5.00" height="67.00" fill="#0909d6" />
<rect x="383.00" y="500.00" width="5.00" height="30.00" fill="#0e0ee6" />
<rect x="383.00" y="530.00" width="5.00" height="30.00" fill="#0606ba" />
<rect x="388.00" y="493.00" width="6.00" height="67.00" fill="#0909d6" />
<rect x="388.00" y="500.00" width="6.00" height="30.00" fill="#0e0ee6" />
<rect x="388.00" y="530.00" width="6.00" height="30.00" fill="#0606ba" />
<rect x="394.00" y="493.00" width="5.00" height="67.00" fill="#0909d6" />
<rect x="394.00" y="500.00" width="5.00" height="30.00" fill="#0e0ee6" />
<rect x="394.00" y="530.00" width="5.00" height="30.00" fill="#0606ba" />
<rect x="399.00" y="493.00" width="5.00" height="67.00" fill="#0909d6" />
<rect x="399.00" y="500.00" width="5.00" height="30.00" fill="#0e0ee6" />
<rect x="399.00" y="530.00" width="5.00" height="30.00" fill="#0606ba" />
<rect x="404.00" y="481.00" width="5.00" height="79.00" fill="#0909d6" />
<rect x="404.00" y="530.00" width="5.00" height="30.00" fill="#0606ba" />
<rect x="409.00" y="481.00" width="5.00" height="79.00" fill="#0909d6" />
<rect x="409.00" y="514.00" width="5.00" height="16.00" fill="#0404b0" />
<rect x="409.00" y="530.00" width="5.00" height="30.00" fill="#0606ba" />
<rect x="414.00" y="450.00" width="5.00" height="110.00" fill="#0909d6" />
<rect x="414.00" y="498.00" width="5.00" height="32.00" fill="#0404b0" />
<rect x="414.00" y="530.00" width="5.00" height="30.00" fill="#0606ba" />
<rect x="419.00" y="402.00" width="5.00" height="158.00" fill="#0909d6" />
<rect x="419.00" y="467.00" width="5.00" height="63.00" fill="#0404b0" />
<rect x="419.00" y="530.00" width="5.00" height="30.00" fill="#0606ba" />
<rect x="424.00" y="384.00" width="5.00" height="176.00" fill="#0909d6" />
<rect x="424.00" y="467.00" width="5.00" height="63.00" fill="#0404b0" />
<rect x="424.00" y="530.00" width="5.00" height="30.00" fill="#0606ba" />
<rect x="429.00" y="384.00" width="5.00" height="176.00" fill="#0909d6" />
<rect x="429.00" y="436.00" width="5.00" height="94.00" fill="#0404b0" />
<rect x="429.00" y="530.00" width="5.00" height="30.00" fill="#0606ba" />
<rect x="434.00" y="384.00" width="5.00" height="176.00" fill="#0909d6" />
<rect x="434.00" y="425.00" width="5.00" height="105.00" fill="#0404b0" />
<rect x="434.00" y="530.00" width="5.00" height="30.00" fill="#0606ba" />
<rect x="439.00" y="384.00" width="5.00" height="176.00" fill="#0909d6" />
<rect x="439.00" y="425.00" width="5.00" height="105.00" fill="#0404b0" />
<rect x="439.00" y="530.00" width="5.00" height="30.00" fill="#0606ba" />
<rect x="444.00" y="384.00" width="5.00" height="176.00" fill="#0909d6" />
<rect x="444.00" y="425.00" width="5.00" height="105.00" fill="#0404b0" />
<rect x="444.00" y="530.00" width="5.00" height="30.00" fill="#0606ba" />
<rect x="449.00" y="384.00" width="5.00" height="176.00" fill="#0909d6" />
<rect x="449.00" y="425.00" width="5.00" height="105.00" fill="#0404b0" />
<rect x="449.00" y="530.00" width="5.00" height="30.00" fill="#0606ba" />
<rect x="454.00" y="384.00" width="5.00" height="176.00" fill="#0909d6" />
<rect x="454.00" y="425.00" width="5.00" height="105.00" fill="#0404b0" />
<rect x="454.00" y="530.00" width="5.00" height="30.00" fill="#0606ba" />
<rect x="459.00" y="384.00" width="6.00" height="176.00" fill="#0909d6" />
<rect x="459.00" y="425.00" width="6.00" height="105.00" fill="#0404b0" />
<rect x="459.00" y="530.00" width="6.00" height="30.00" fill="#0606ba" />
<rect x="465.00" y="384.00" width="5.00" height="176.00" fill="#0909d6" />
<rect x="465.00" y="425.00" width="5.00" height="105.00" fill="#0404b0" />
<rect x="465.00" y="530.00" width="5.00" height="30.00" fill="#0606ba" />
<rect x="470.00" y="384.00" width="5.00" height="176.00" fill="#0909d6" />
<rect x="470.00" y="425.00" width="5.00" height="105.00" fill="#0404b0" />
<rect x="470.00" y="530.00" width="5.00" height="30.00" fill="#0606ba" />
<rect x="475.00" y="384.00" width="5.00" height="176.00" fill="#0909d6" />
<rect x="475.00" y="425.00" width="5.00" height="105.00" fill="#0404b0" />
<rect x="475.00" y="530.00" width="5.00" height="30.00" fill="#0606ba" />
<rect x="480.00" y="384.00" width="5.00" height="176.00" fill="#0909d6" />
<rect x="480.00" y="425.00" width="5.00" height="105.00" fill="#0404b0" />
<rect x="480.00" y="530.00" width="5.00" height="30.00" fill="#0606ba" />
<rect x="485.00" y="384.00" width="5.00" height="176.00" fill="#0909d6" />
<rect x="485.00" y="425.00" width="5.00" height="105.00" fill="#0404b0" />
<rect x="485.00" y="530.00" width="5.00" height="30.00" fill="#0606ba" />
<rect x="490.00" y="384.00" width="5.00" height="176.00" fill="#0909d6" />
<rect x="490.00" y="425.00" width="5.00" height="105.00" fill="#0404b0" />
<rect x="490.00" y="530.00" width="5.00" height="30.00" fill="#0606ba" />
<rect x="495.00" y="384.00" width="5.00" height="176.00" fill="#0909d6" />
<rect x="495.00" y="425.00" width="5.00" height="105.00" fill="#0404b0" />
<rect x="495.00" y="530.00" width="5.00" height="30.00" fill="#0606ba" />
<rect x="500.00" y="384.00" width="5.00" height="176.00" fill="#0909d6" />
<rect x="500.00" y="425.00" width="5.00" height="105.00" fill="#0404b0" />
<rect x="500.00" y="530.00" width="5.00" height="30.00" fill="#0606ba" />
<rect x="505.00" y="384.00" width="5.00" height="176.00" fill="#0909d6" />
<rect x="505.00" y="425.00" width="5.00" height="105.00" fill="#0404b0" />
<rect x="505.00" y="530.00" width="5.00" height="30.00" fill="#0606ba" />
<rect x="510.00" y="384.00" width="5.00" height="176.00" fill="#0909d6" />
<rect x="510.00" y="425.00" width="5.00" height="105.00" fill="#0404b0" />
<rect x="510.00" y="530.00" width="5.00" height="30.00" fill="#0606ba" />
<rect x="515.00" y="384.00" width="5.00" height="176.00" fill="#0909d6" />
<rect x="515.00" y="425.00" width="5.00" height="105.00" fill="#0404b0" />
<rect x="515.00" y="530.00" width="5.00" height="30.00" fill="#0606ba" />
<rect x="520.00" y="384.00" width="5.00" height="176.00" fill="#0909d6" />
<rect x="520.00" y="436.00" width="5.00" height="94.00" fill="#0404b0" />
<rect x="520.00" y="530.00" width="5.00" height="30.00" fill="#0606ba" />
<rect x="525.00" y="384.00" width="6.00" height="176.00" fill="#0909d6" />
<rect x="525.00" y="467.00" width="6.00" height="63.00" fill="#0404b0" />
<rect x="525.00" y="530.00" width="6.00" height="30.00" fill="#0606ba" />
<rect x="531.00" y="402.00" width="5.00" height="158.00" fill="#0909d6" />
<rect x="531.00" y="467.00" width="5.00" height="63.00" fill="#0404b0" />
<rect x="531.00" y="530.00" width="5.00" height="30.00" fill="#0606ba" />
<rect x="536.00" y="450.00" width="5.00" height="110.00" fill="#0909d6" />
<rect x="536.00" y="498.00" width="5.00" height="32.00" fill="#0404b0" />
<rect x="536.00" y="530.00" width="5.00" height="30.00" fill="#0606ba" />
<rect x="541.00" y="481.00" width="5.00" height="79.00" fill="#0909d6" />
<rect x="541.00" y="514.00" width="5.00" height="16.00" fill="#0404b0" />
<rect x="541.00" y="530.00" width="5.00" height="30.00" fill="#0606ba" />
<rect x="546.00" y="481.00" width="5.00" height="79.00" fill="#0909d6" />
<rect x="546.00" y="530.00" width="5.00" height="30.00" fill="#0606ba" />
<rect x="551.00" y="493.00" width="5.00" height="67.00" fill="#0909d6" />
<rect x="551.00" y="500.00" width="5.00" height="30.00" fill="#0e0ee6" />
<rect x="551.00" y="530.00" width="5.00" height="30.00" fill="#0606ba" />
<rect x="556.00" y="493.00" width="5.00" height="67.00" fill="#0909d6" />
<rect x="556.00" y="500.00" width="5.00" height="30.00" fill="#0e0ee6" />
<rect x="556.00" y="530.00" width="5.00" height="30.00" fill="#0606ba" />
<rect x="561.00" y="493.00" width="5.00" height="67.00" fill="#0909d6" />
<rect x="561.00" y="500.00" width="5.00" height="30.00" fill="#0e0ee6" />
<rect x="561.00" y="530.00" width="5.00" height="30.00" fill="#0606ba" />
<rect x="566.00" y="493.00" width="5.00" height="67.00" fill="#0909d6" />
<rect x="566.00" y="500.00" width="5.00" height="30.00" fill="#0e0ee6" />
<rect x="566.00" y="530.00" width="5.00" height="30.00" fill="#0606ba" />
<defs><linearGradient id="cyl" x1="0" y1="0" x2="1" y2="0"><stop offset="0" stop-color="#000030" stop-opacity="0.45"/><stop offset="0.5" stop-color="#000030" stop-opacity="0"/><stop offset="1" stop-color="#000030" stop-opacity="0.45"/></linearGradient></defs>
<rect x="384" y="493" width="4" height="67" fill="url(#cyl)"/>
<rect x="389" y="493" width="5" height="67" fill="url(#cyl)"/>
<rect x="395" y="493" width="4" height="67" fill="url(#cyl)"/>
<rect x="400" y="493" width="4" height="67" fill="url(#cyl)"/>
<rect x="405" y="481" width="4" height="79" fill="url(#cyl)"/>
<rect x="410" y="481" width="4" height="79" fill="url(#cyl)"/>
<rect x="415" y="450" width="4" height="110" fill="url(#cyl)"/>
<rect x="420" y="402" width="4" height="158" fill="url(#cyl)"/>
<rect x="425" y="384" width="4" height="176" fill="url(#cyl)"/>
<rect x="430" y="384" width="4" height="176" fill="url(#cyl)"/>
<rect x="435" y="384" width="4" height="176" fill="url(#cyl)"/>
<rect x="440" y="384" width="4" height="176" fill="url(#cyl)"/>
<rect x="445" y="384" width="4" height="176" fill="url(#cyl)"/>
<rect x="450" y="384" width="4" height="176" fill="url(#cyl)"/>
<rect x="455" y="384" width="4" height="176" fill="url(#cyl)"/>
<rect x="460" y="384" width="5" height="176" fill="url(#cyl)"/>
<rect x="466" y="384" width="4" height="176" fill="url(#cyl)"/>
<rect x="471" y="384" width="4" height="176" fill="url(#cyl)"/>
<rect x="476" y="384" width="4" height="176" fill="url(#cyl)"/>
<rect x="481" y="384" width="4" height="176" fill="url(#cyl)"/>
<rect x="486" y="384" width="4" height="176" fill="url(#cyl)"/>
<rect x="491" y="384" width="4" height="176" fill="url(#cyl)"/>
<rect x="496" y="384" width="4" height="176" fill="url(#cyl)"/>
<rect x="501" y="384" width="4" height="176" fill="url(#cyl)"/>
<rect x="506" y="384" width="4" height="176" fill="url(#cyl)"/>
<rect x="511" y="384" width="4" height="176" fill="url(#cyl)"/>
<rect x="516" y="384" width="4" height="176" fill="url(#cyl)"/>
<rect x="521" y="384" width="4" height="176" fill="url(#cyl)"/>
<rect x="526" y="384" width="5" height="176" fill="url(#cyl)"/>
<rect x="532" y="402" width="4" height="158" fill="url(#cyl)"/>
<rect x="537" y="450" width="4" height="110" fill="url(#cyl)"/>
<rect x="542" y="481" width="4" height="79" fill="url(#cyl)"/>
<rect x="547" y="481" width="4" height="79" fill="url(#cyl)"/>
<rect x="552" y="493" width="4" height="67" fill="url(#cyl)"/>
<rect x="557" y="493" width="4" height="67" fill="url(#cyl)"/>
<rect x="562" y="493" width="4" height="67" fill="url(#cyl)"/>
<rect x="567" y="493" width="4" height="67" fill="url(#cyl)"/>
<line x1="378.50" y1="196.00" x2="378.50" y2="560.00" stroke="#4a3418" stroke-width="1" shape-rendering="crispEdges"/>
<line x1="383.50" y1="196.00" x2="383.50" y2="560.00" stroke="#0a0202" stroke-width="1" shape-rendering="crispEdges"/>
<rect x="383.00" y="493.00" width="1.00" height="67.00" fill="#000058" />
<line x1="388.50" y1="196.00" x2="388.50" y2="560.00" stroke="#0a0202" stroke-width="1" shape-rendering="crispEdges"/>
<rect x="388.00" y="493.00" width="1.00" height="67.00" fill="#000058" />
<line x1="394.50" y1="196.00" x2="394.50" y2="560.00" stroke="#0a0202" stroke-width="1" shape-rendering="crispEdges"/>
<rect x="394.00" y="493.00" width="1.00" height="67.00" fill="#000058" />
<line x1="399.50" y1="196.00" x2="399.50" y2="560.00" stroke="#0a0202" stroke-width="1" shape-rendering="crispEdges"/>
<rect x="399.00" y="493.00" width="1.00" height="67.00" fill="#000058" />
<line x1="404.50" y1="196.00" x2="404.50" y2="560.00" stroke="#0a0202" stroke-width="1" shape-rendering="crispEdges"/>
<rect x="404.00" y="493.00" width="1.00" height="67.00" fill="#000058" />
<line x1="409.50" y1="196.00" x2="409.50" y2="560.00" stroke="#0a0202" stroke-width="1" shape-rendering="crispEdges"/>
<rect x="409.00" y="481.00" width="1.00" height="79.00" fill="#000058" />
<line x1="414.50" y1="196.00" x2="414.50" y2="560.00" stroke="#0a0202" stroke-width="1" shape-rendering="crispEdges"/>
<rect x="414.00" y="481.00" width="1.00" height="79.00" fill="#000058" />
<line x1="419.50" y1="196.00" x2="419.50" y2="560.00" stroke="#0a0202" stroke-width="1" shape-rendering="crispEdges"/>
<rect x="419.00" y="450.00" width="1.00" height="110.00" fill="#000058" />
<line x1="424.50" y1="196.00" x2="424.50" y2="560.00" stroke="#0a0202" stroke-width="1" shape-rendering="crispEdges"/>
<rect x="424.00" y="402.00" width="1.00" height="158.00" fill="#000058" />
<line x1="429.50" y1="196.00" x2="429.50" y2="560.00" stroke="#0a0202" stroke-width="1" shape-rendering="crispEdges"/>
<rect x="429.00" y="384.00" width="1.00" height="176.00" fill="#000058" />
<line x1="434.50" y1="196.00" x2="434.50" y2="560.00" stroke="#0a0202" stroke-width="1" shape-rendering="crispEdges"/>
<rect x="434.00" y="384.00" width="1.00" height="176.00" fill="#000058" />
<line x1="439.50" y1="196.00" x2="439.50" y2="560.00" stroke="#0a0202" stroke-width="1" shape-rendering="crispEdges"/>
<rect x="439.00" y="384.00" width="1.00" height="176.00" fill="#000058" />
<line x1="444.50" y1="196.00" x2="444.50" y2="560.00" stroke="#0a0202" stroke-width="1" shape-rendering="crispEdges"/>
<rect x="444.00" y="384.00" width="1.00" height="176.00" fill="#000058" />
<line x1="449.50" y1="196.00" x2="449.50" y2="560.00" stroke="#0a0202" stroke-width="1" shape-rendering="crispEdges"/>
<rect x="449.00" y="384.00" width="1.00" height="176.00" fill="#000058" />
<line x1="454.50" y1="196.00" x2="454.50" y2="560.00" stroke="#0a0202" stroke-width="1" shape-rendering="crispEdges"/>
<rect x="454.00" y="384.00" width="1.00" height="176.00" fill="#000058" />
<rect x="459.00" y="196.00" width="2.00" height="364.00" fill="#000" />
<rect x="459.00" y="384.00" width="2.00" height="176.00" fill="#00004a" />
<line x1="465.50" y1="196.00" x2="465.50" y2="560.00" stroke="#0a0202" stroke-width="1" shape-rendering="crispEdges"/>
<rect x="465.00" y="384.00" width="1.00" height="176.00" fill="#000058" />
<line x1="470.50" y1="196.00" x2="470.50" y2="560.00" stroke="#0a0202" stroke-width="1" shape-rendering="crispEdges"/>
<rect x="470.00" y="384.00" width="1.00" height="176.00" fill="#000058" />
<line x1="475.50" y1="196.00" x2="475.50" y2="560.00" stroke="#0a0202" stroke-width="1" shape-rendering="crispEdges"/>
<rect x="475.00" y="384.00" width="1.00" height="176.00" fill="#000058" />
<line x1="480.50" y1="196.00" x2="480.50" y2="560.00" stroke="#0a0202" stroke-width="1" shape-rendering="crispEdges"/>
<rect x="480.00" y="384.00" width="1.00" height="176.00" fill="#000058" />
<line x1="485.50" y1="196.00" x2="485.50" y2="560.00" stroke="#0a0202" stroke-width="1" shape-rendering="crispEdges"/>
<rect x="485.00" y="384.00" width="1.00" height="176.00" fill="#000058" />
<line x1="490.50" y1="196.00" x2="490.50" y2="560.00" stroke="#0a0202" stroke-width="1" shape-rendering="crispEdges"/>
<rect x="490.00" y="384.00" width="1.00" height="176.00" fill="#000058" />
<line x1="495.50" y1="196.00" x2="495.50" y2="560.00" stroke="#0a0202" stroke-width="1" shape-rendering="crispEdges"/>
<rect x="495.00" y="384.00" width="1.00" height="176.00" fill="#000058" />
<line x1="500.50" y1="196.00" x2="500.50" y2="560.00" stroke="#0a0202" stroke-width="1" shape-rendering="crispEdges"/>
<rect x="500.00" y="384.00" width="1.00" height="176.00" fill="#000058" />
<line x1="505.50" y1="196.00" x2="505.50" y2="560.00" stroke="#0a0202" stroke-width="1" shape-rendering="crispEdges"/>
<rect x="505.00" y="384.00" width="1.00" height="176.00" fill="#000058" />
<line x1="510.50" y1="196.00" x2="510.50" y2="560.00" stroke="#0a0202" stroke-width="1" shape-rendering="crispEdges"/>
<rect x="510.00" y="384.00" width="1.00" height="176.00" fill="#000058" />
<line x1="515.50" y1="196.00" x2="515.50" y2="560.00" stroke="#0a0202" stroke-width="1" shape-rendering="crispEdges"/>
<rect x="515.00" y="384.00" width="1.00" height="176.00" fill="#000058" />
<line x1="520.50" y1="196.00" x2="520.50" y2="560.00" stroke="#0a0202" stroke-width="1" shape-rendering="crispEdges"/>
<rect x="520.00" y="384.00" width="1.00" height="176.00" fill="#000058" />
<line x1="525.50" y1="196.00" x2="525.50" y2="560.00" stroke="#0a0202" stroke-width="1" shape-rendering="crispEdges"/>
<rect x="525.00" y="384.00" width="1.00" height="176.00" fill="#000058" />
<line x1="531.50" y1="196.00" x2="531.50" y2="560.00" stroke="#0a0202" stroke-width="1" shape-rendering="crispEdges"/>
<rect x="531.00" y="402.00" width="1.00" height="158.00" fill="#000058" />
<line x1="536.50" y1="196.00" x2="536.50" y2="560.00" stroke="#0a0202" stroke-width="1" shape-rendering="crispEdges"/>
<rect x="536.00" y="450.00" width="1.00" height="110.00" fill="#000058" />
<line x1="541.50" y1="196.00" x2="541.50" y2="560.00" stroke="#0a0202" stroke-width="1" shape-rendering="crispEdges"/>
<rect x="541.00" y="481.00" width="1.00" height="79.00" fill="#000058" />
<line x1="546.50" y1="196.00" x2="546.50" y2="560.00" stroke="#0a0202" stroke-width="1" shape-rendering="crispEdges"/>
<rect x="546.00" y="481.00" width="1.00" height="79.00" fill="#000058" />
<line x1="551.50" y1="196.00" x2="551.50" y2="560.00" stroke="#0a0202" stroke-width="1" shape-rendering="crispEdges"/>
<rect x="551.00" y="493.00" width="1.00" height="67.00" fill="#000058" />
<line x1="556.50" y1="196.00" x2="556.50" y2="560.00" stroke="#0a0202" stroke-width="1" shape-rendering="crispEdges"/>
<rect x="556.00" y="493.00" width="1.00" height="67.00" fill="#000058" />
<line x1="561.50" y1="196.00" x2="561.50" y2="560.00" stroke="#0a0202" stroke-width="1" shape-rendering="crispEdges"/>
<rect x="561.00" y="493.00" width="1.00" height="67.00" fill="#000058" />
<line x1="566.50" y1="196.00" x2="566.50" y2="560.00" stroke="#0a0202" stroke-width="1" shape-rendering="crispEdges"/>
<rect x="566.00" y="493.00" width="1.00" height="67.00" fill="#000058" />
<line x1="571.50" y1="196.00" x2="571.50" y2="560.00" stroke="#0a0202" stroke-width="1" shape-rendering="crispEdges"/>
<line x1="576.50" y1="196.00" x2="576.50" y2="560.00" stroke="#0a0202" stroke-width="1" shape-rendering="crispEdges"/>
<rect x="378.00" y="225.00" width="199.00" height="1.00" fill="#080202" />
<rect x="378.00" y="286.00" width="199.00" height="1.00" fill="#080202" />
<rect x="378.00" y="347.00" width="199.00" height="1.00" fill="#080202" />
<rect x="378.00" y="377.00" width="199.00" height="1.00" fill="#080202" />
<rect x="378.00" y="408.00" width="199.00" height="1.00" fill="#080202" />
<rect x="419.00" y="408.00" width="6.00" height="1.00" fill="#000040" />
<rect x="424.00" y="408.00" width="6.00" height="1.00" fill="#000040" />
<rect x="429.00" y="408.00" width="6.00" height="1.00" fill="#000040" />
<rect x="434.00" y="408.00" width="6.00" height="1.00" fill="#000040" />
<rect x="439.00" y="408.00" width="6.00" height="1.00" fill="#000040" />
<rect x="444.00" y="408.00" width="6.00" height="1.00" fill="#000040" />
<rect x="449.00" y="408.00" width="6.00" height="1.00" fill="#000040" />
<rect x="454.00" y="408.00" width="6.00" height="1.00" fill="#000040" />
<rect x="459.00" y="408.00" width="7.00" height="1.00" fill="#000040" />
<rect x="465.00" y="408.00" width="6.00" height="1.00" fill="#000040" />
<rect x="470.00" y="408.00" width="6.00" height="1.00" fill="#000040" />
<rect x="475.00" y="408.00" width="6.00" height="1.00" fill="#000040" />
<rect x="480.00" y="408.00" width="6.00" height="1.00" fill="#000040" />
<rect x="485.00" y="408.00" width="6.00" height="1.00" fill="#000040" />
<rect x="490.00" y="408.00" width="6.00" height="1.00" fill="#000040" />
<rect x="495.00" y="408.00" width="6.00" height="1.00" fill="#000040" />
<rect x="500.00" y="408.00" width="6.00" height="1.00" fill="#000040" />
<rect x="505.00" y="408.00" width="6.00" height="1.00" fill="#000040" />
<rect x="510.00" y="408.00" width="6.00" height="1.00" fill="#000040" />
<rect x="515.00" y="408.00" width="6.00" height="1.00" fill="#000040" />
<rect x="520.00" y="408.00" width="6.00" height="1.00" fill="#000040" />
<rect x="525.00" y="408.00" width="7.00" height="1.00" fill="#000040" />
<rect x="531.00" y="408.00" width="6.00" height="1.00" fill="#000040" />
<rect x="378.00" y="438.00" width="199.00" height="1.00" fill="#080202" />
<rect x="419.00" y="438.00" width="6.00" height="1.00" fill="#000040" />
<rect x="424.00" y="438.00" width="6.00" height="1.00" fill="#000040" />
<rect x="429.00" y="438.00" width="6.00" height="1.00" fill="#000040" />
<rect x="434.00" y="438.00" width="6.00" height="1.00" fill="#000040" />
<rect x="439.00" y="438.00" width="6.00" height="1.00" fill="#000040" />
<rect x="444.00" y="438.00" width="6.00" height="1.00" fill="#000040" />
<rect x="449.00" y="438.00" width="6.00" height="1.00" fill="#000040" />
<rect x="454.00" y="438.00" width="6.00" height="1.00" fill="#000040" />
<rect x="459.00" y="438.00" width="7.00" height="1.00" fill="#000040" />
<rect x="465.00" y="438.00" width="6.00" height="1.00" fill="#000040" />
<rect x="470.00" y="438.00" width="6.00" height="1.00" fill="#000040" />
<rect x="475.00" y="438.00" width="6.00" height="1.00" fill="#000040" />
<rect x="480.00" y="438.00" width="6.00" height="1.00" fill="#000040" />
<rect x="485.00" y="438.00" width="6.00" height="1.00" fill="#000040" />
<rect x="490.00" y="438.00" width="6.00" height="1.00" fill="#000040" />
<rect x="495.00" y="438.00" width="6.00" height="1.00" fill="#000040" />
<rect x="500.00" y="438.00" width="6.00" height="1.00" fill="#000040" />
<rect x="505.00" y="438.00" width="6.00" height="1.00" fill="#000040" />
<rect x="510.00" y="438.00" width="6.00" height="1.00" fill="#000040" />
<rect x="515.00" y="438.00" width="6.00" height="1.00" fill="#000040" />
<rect x="520.00" y="438.00" width="6.00" height="1.00" fill="#000040" />
<rect x="525.00" y="438.00" width="7.00" height="1.00" fill="#000040" />
<rect x="531.00" y="438.00" width="6.00" height="1.00" fill="#000040" />
<rect x="378.00" y="469.00" width="199.00" height="1.00" fill="#080202" />
<rect x="414.00" y="469.00" width="6.00" height="1.00" fill="#000040" />
<rect x="419.00" y="469.00" width="6.00" height="1.00" fill="#000040" />
<rect x="424.00" y="469.00" width="6.00" height="1.00" fill="#000040" />
<rect x="429.00" y="469.00" width="6.00" height="1.00" fill="#000040" />
<rect x="434.00" y="469.00" width="6.00" height="1.00" fill="#000040" />
<rect x="439.00" y="469.00" width="6.00" height="1.00" fill="#000040" />
<rect x="444.00" y="469.00" width="6.00" height="1.00" fill="#000040" />
<rect x="449.00" y="469.00" width="6.00" height="1.00" fill="#000040" />
<rect x="454.00" y="469.00" width="6.00" height="1.00" fill="#000040" />
<rect x="459.00" y="469.00" width="7.00" height="1.00" fill="#000040" />
<rect x="465.00" y="469.00" width="6.00" height="1.00" fill="#000040" />
<rect x="470.00" y="469.00" width="6.00" height="1.00" fill="#000040" />
<rect x="475.00" y="469.00" width="6.00" height="1.00" fill="#000040" />
<rect x="480.00" y="469.00" width="6.00" height="1.00" fill="#000040" />
<rect x="485.00" y="469.00" width="6.00" height="1.00" fill="#000040" />
<rect x="490.00" y="469.00" width="6.00" height="1.00" fill="#000040" />
<rect x="495.00" y="469.00" width="6.00" height="1.00" fill="#000040" />
<rect x="500.00" y="469.00" width="6.00" height="1.00" fill="#000040" />
<rect x="505.00" y="469.00" width="6.00" height="1.00" fill="#000040" />
<rect x="510.00" y="469.00" width="6.00" height="1.00" fill="#000040" />
<rect x="515.00" y="469.00" width="6.00" height="1.00" fill="#000040" />
<rect x="520.00" y="469.00" width="6.00" height="1.00" fill="#000040" />
<rect x="525.00" y="469.00" width="7.00" height="1.00" fill="#000040" />
<rect x="531.00" y="469.00" width="6.00" height="1.00" fill="#000040" />
<rect x="536.00" y="469.00" width="6.00" height="1.00" fill="#000040" />
<rect x="378.00" y="499.00" width="199.00" height="1.00" fill="#080202" />
<rect x="383.00" y="499.00" width="6.00" height="1.00" fill="#000040" />
<rect x="388.00" y="499.00" width="7.00" height="1.00" fill="#000040" />
<rect x="394.00" y="499.00" width="6.00" height="1.00" fill="#000040" />
<rect x="399.00" y="499.00" width="6.00" height="1.00" fill="#000040" />
<rect x="404.00" y="499.00" width="6.00" height="1.00" fill="#000040" />
<rect x="409.00" y="499.00" width="6.00" height="1.00" fill="#000040" />
<rect x="414.00" y="499.00" width="6.00" height="1.00" fill="#000040" />
<rect x="419.00" y="499.00" width="6.00" height="1.00" fill="#000040" />
<rect x="424.00" y="499.00" width="6.00" height="1.00" fill="#000040" />
<rect x="429.00" y="499.00" width="6.00" height="1.00" fill="#000040" />
<rect x="434.00" y="499.00" width="6.00" height="1.00" fill="#000040" />
<rect x="439.00" y="499.00" width="6.00" height="1.00" fill="#000040" />
<rect x="444.00" y="499.00" width="6.00" height="1.00" fill="#000040" />
<rect x="449.00" y="499.00" width="6.00" height="1.00" fill="#000040" />
<rect x="454.00" y="499.00" width="6.00" height="1.00" fill="#000040" />
<rect x="459.00" y="499.00" width="7.00" height="1.00" fill="#000040" />
<rect x="465.00" y="499.00" width="6.00" height="1.00" fill="#000040" />
<rect x="470.00" y="499.00" width="6.00" height="1.00" fill="#000040" />
<rect x="475.00" y="499.00" width="6.00" height="1.00" fill="#000040" />
<rect x="480.00" y="499.00" width="6.00" height="1.00" fill="#000040" />
<rect x="485.00" y="499.00" width="6.00" height="1.00" fill="#000040" />
<rect x="490.00" y="499.00" width="6.00" height="1.00" fill="#000040" />
<rect x="495.00" y="499.00" width="6.00" height="1.00" fill="#000040" />
<rect x="500.00" y="499.00" width="6.00" height="1.00" fill="#000040" />
<rect x="505.00" y="499.00" width="6.00" height="1.00" fill="#000040" />
<rect x="510.00" y="499.00" width="6.00" height="1.00" fill="#000040" />
<rect x="515.00" y="499.00" width="6.00" height="1.00" fill="#000040" />
<rect x="520.00" y="499.00" width="6.00" height="1.00" fill="#000040" />
<rect x="525.00" y="499.00" width="7.00" height="1.00" fill="#000040" />
<rect x="531.00" y="499.00" width="6.00" height="1.00" fill="#000040" />
<rect x="536.00" y="499.00" width="6.00" height="1.00" fill="#000040" />
<rect x="541.00" y="499.00" width="6.00" height="1.00" fill="#000040" />
<rect x="546.00" y="499.00" width="6.00" height="1.00" fill="#000040" />
<rect x="551.00" y="499.00" width="6.00" height="1.00" fill="#000040" />
<rect x="556.00" y="499.00" width="6.00" height="1.00" fill="#000040" />
<rect x="561.00" y="499.00" width="6.00" height="1.00" fill="#000040" />
<rect x="566.00" y="499.00" width="6.00" height="1.00" fill="#000040" />
<rect x="378.00" y="195.00" width="199.00" height="1.00" fill="#0a0202" />
<rect x="378.00" y="151.00" width="199.00" height="1.00" fill="#585858" />
<rect x="378.00" y="151.00" width="1.00" height="44.00" fill="#585858" />
<rect x="399.00" y="196.00" width="6.00" height="5.00" fill="#000" />
<rect x="424.00" y="196.00" width="6.00" height="5.00" fill="#000" />
<rect x="449.00" y="196.00" width="6.00" height="5.00" fill="#000" />
<rect x="475.00" y="196.00" width="6.00" height="5.00" fill="#000" />
<rect x="500.00" y="196.00" width="6.00" height="5.00" fill="#000" />
<rect x="525.00" y="196.00" width="7.00" height="5.00" fill="#000" />
<rect x="551.00" y="196.00" width="6.00" height="5.00" fill="#000" />
<rect x="378.00" y="560.00" width="199.00" height="7.00" fill="#3a3a3a" />
<rect x="378.00" y="566.00" width="199.00" height="1.00" fill="#5a5a5a" />
<rect x="379.00" y="560.00" width="4.00" height="6.00" fill="#8d8d8d" />
<rect x="384.00" y="560.00" width="4.00" height="6.00" fill="#8d8d8d" />
<rect x="389.00" y="560.00" width="5.00" height="6.00" fill="#8d8d8d" />
<rect x="395.00" y="560.00" width="4.00" height="6.00" fill="#8d8d8d" />
<rect x="400.00" y="560.00" width="4.00" height="6.00" fill="#000" />
<rect x="405.00" y="560.00" width="4.00" height="6.00" fill="#8d8d8d" />
<rect x="410.00" y="560.00" width="4.00" height="6.00" fill="#8d8d8d" />
<rect x="415.00" y="560.00" width="4.00" height="6.00" fill="#8d8d8d" />
<rect x="420.00" y="560.00" width="4.00" height="6.00" fill="#8d8d8d" />
<rect x="425.00" y="560.00" width="4.00" height="6.00" fill="#000" />
<rect x="430.00" y="560.00" width="4.00" height="6.00" fill="#8d8d8d" />
<rect x="435.00" y="560.00" width="4.00" height="6.00" fill="#8d8d8d" />
<rect x="440.00" y="560.00" width="4.00" height="6.00" fill="#8d8d8d" />
<rect x="445.00" y="560.00" width="4.00" height="6.00" fill="#8d8d8d" />
<rect x="450.00" y="560.00" width="4.00" height="6.00" fill="#000" />
<rect x="455.00" y="560.00" width="4.00" height="6.00" fill="#8d8d8d" />
<rect x="460.00" y="560.00" width="5.00" height="6.00" fill="#8d8d8d" />
<rect x="466.00" y="560.00" width="4.00" height="6.00" fill="#8d8d8d" />
<rect x="471.00" y="560.00" width="4.00" height="6.00" fill="#8d8d8d" />
<rect x="476.00" y="560.00" width="4.00" height="6.00" fill="#000" />
<rect x="481.00" y="560.00" width="4.00" height="6.00" fill="#8d8d8d" />
<rect x="486.00" y="560.00" width="4.00" height="6.00" fill="#8d8d8d" />
<rect x="491.00" y="560.00" width="4.00" height="6.00" fill="#8d8d8d" />
<rect x="496.00" y="560.00" width="4.00" height="6.00" fill="#8d8d8d" />
<rect x="501.00" y="560.00" width="4.00" height="6.00" fill="#000" />
<rect x="506.00" y="560.00" width="4.00" height="6.00" fill="#8d8d8d" />
<rect x="511.00" y="560.00" width="4.00" height="6.00" fill="#8d8d8d" />
<rect x="516.00" y="560.00" width="4.00" height="6.00" fill="#8d8d8d" />
<rect x="521.00" y="560.00" width="4.00" height="6.00" fill="#8d8d8d" />
<rect x="526.00" y="560.00" width="5.00" height="6.00" fill="#000" />
<rect x="532.00" y="560.00" width="4.00" height="6.00" fill="#8d8d8d" />
<rect x="537.00" y="560.00" width="4.00" height="6.00" fill="#8d8d8d" />
<rect x="542.00" y="560.00" width="4.00" height="6.00" fill="#8d8d8d" />
<rect x="547.00" y="560.00" width="4.00" height="6.00" fill="#8d8d8d" />
<rect x="552.00" y="560.00" width="4.00" height="6.00" fill="#000" />
<rect x="557.00" y="560.00" width="4.00" height="6.00" fill="#8d8d8d" />
<rect x="562.00" y="560.00" width="4.00" height="6.00" fill="#8d8d8d" />
<rect x="567.00" y="560.00" width="4.00" height="6.00" fill="#8d8d8d" />
<rect x="572.00" y="560.00" width="4.00" height="6.00" fill="#8d8d8d" />
<text transform="translate(404.82,193.3) rotate(-90) scale(0.3,1)" font-size="10.8" fill="#000">5</text>
<text transform="translate(430.28,193.3) rotate(-90) scale(0.3,1)" font-size="10.8" fill="#000">10</text>
<text transform="translate(455.74,193.3) rotate(-90) scale(0.3,1)" font-size="10.8" fill="#000">15</text>
<text transform="translate(481.20,193.3) rotate(-90) scale(0.3,1)" font-size="10.8" fill="#000">20</text>
<text transform="translate(506.66,193.3) rotate(-90) scale(0.3,1)" font-size="10.8" fill="#000">15</text>
<text transform="translate(532.12,193.3) rotate(-90) scale(0.3,1)" font-size="10.8" fill="#000">10</text>
<text transform="translate(557.58,193.3) rotate(-90) scale(0.3,1)" font-size="10.8" fill="#000">5</text>
<text transform="translate(589.2,531.35) rotate(-90) scale(0.36,1)" font-size="12.6" font-weight="bold" fill="#000">5</text>
<text transform="translate(589.2,502.10) rotate(-90) scale(0.36,1)" font-size="12.6" font-weight="bold" fill="#000">10</text>
<text transform="translate(589.2,471.70) rotate(-90) scale(0.36,1)" font-size="12.6" font-weight="bold" fill="#000">15</text>
<text transform="translate(589.2,441.30) rotate(-90) scale(0.36,1)" font-size="12.6" font-weight="bold" fill="#000">20</text>
<text transform="translate(589.2,410.90) rotate(-90) scale(0.36,1)" font-size="12.6" font-weight="bold" fill="#000">25</text>
<text transform="translate(589.2,380.50) rotate(-90) scale(0.36,1)" font-size="12.6" font-weight="bold" fill="#000">30</text>
<text transform="translate(589.2,350.10) rotate(-90) scale(0.36,1)" font-size="12.6" font-weight="bold" fill="#000">35</text>
<text transform="translate(589.2,319.70) rotate(-90) scale(0.36,1)" font-size="12.6" font-weight="bold" fill="#000">40</text>
<text transform="translate(589.2,289.30) rotate(-90) scale(0.36,1)" font-size="12.6" font-weight="bold" fill="#000">45</text>
<text transform="translate(589.2,258.90) rotate(-90) scale(0.36,1)" font-size="12.6" font-weight="bold" fill="#000">50</text>
<text transform="translate(589.2,228.50) rotate(-90) scale(0.36,1)" font-size="12.6" font-weight="bold" fill="#000">55</text>
<path d="M78.5 574.2 V739.2 H575.5 V574.2" fill="none" stroke="#606060" stroke-width="1"/>
<line x1="78.50" y1="620.50" x2="575.50" y2="620.50" stroke="#555" stroke-width="1.1" />
<line x1="139.30" y1="574.20" x2="139.30" y2="620.50" stroke="#777" stroke-width="0.9" />
<line x1="210.50" y1="574.20" x2="210.50" y2="620.50" stroke="#777" stroke-width="0.9" />
<line x1="495.50" y1="574.20" x2="495.50" y2="620.50" stroke="#777" stroke-width="0.9" />
<rect x="78.9" y="591.0" width="61.2" height="14.4" fill="none" stroke="#000" stroke-width="1.5"/>
<line x1="78.50" y1="605.60" x2="141.00" y2="605.60" stroke="#000" stroke-width="1.9" />
<line x1="140.30" y1="590.50" x2="140.30" y2="606.50" stroke="#000" stroke-width="1.6" />
<text x="109.20" y="584.60" font-size="7.0" fill="#222" text-anchor="middle" font-weight="normal" >Item</text>
<text x="80.5" y="600.3" font-size="8.2" fill="#111" textLength="35.3" lengthAdjust="spacingAndGlyphs">Description</text>
<text x="80.5" y="616.0" font-size="8.2" fill="#1c1c10" textLength="51.5" lengthAdjust="spacingAndGlyphs">Track Zone Ratio</text>
<text x="175.0" y="584.7" font-size="5.8" fill="#3a3a20" text-anchor="middle" textLength="38.4" lengthAdjust="spacingAndGlyphs">3L-7L:18L-18R</text>
<text x="175.0" y="600.3" font-size="8.2" fill="#2a2a50" text-anchor="middle" textLength="66.0" lengthAdjust="spacingAndGlyphs">Outside Track:Middle</text>
<text x="175.00" y="615.80" font-size="7.4" fill="#111" text-anchor="middle" font-weight="normal" >3.63</text>
<text x="247.3" y="584.7" font-size="5.8" fill="#3a3a20" text-anchor="middle" textLength="41.3" lengthAdjust="spacingAndGlyphs">8L-12L:18L-18R</text>
<text x="247.3" y="600.3" font-size="8.2" fill="#2a2a50" text-anchor="middle" textLength="62.7" lengthAdjust="spacingAndGlyphs">Middle Track:Middle</text>
<text x="247.30" y="615.80" font-size="7.4" fill="#111" text-anchor="middle" font-weight="normal" >1.23</text>
<text x="319.0" y="584.7" font-size="5.8" fill="#3a3a20" text-anchor="middle" textLength="44.2" lengthAdjust="spacingAndGlyphs">13L-17L:18L-18R</text>
<text x="319.0" y="600.3" font-size="8.2" fill="#2a2a50" text-anchor="middle" textLength="62.7" lengthAdjust="spacingAndGlyphs">Inside Track:Middle</text>
<text x="319.00" y="615.80" font-size="7.4" fill="#111" text-anchor="middle" font-weight="normal" >1</text>
<text x="389.0" y="584.7" font-size="5.8" fill="#3a3a20" text-anchor="middle" textLength="44.2" lengthAdjust="spacingAndGlyphs">18L-18R:17R-13R</text>
<text x="389.0" y="600.3" font-size="8.2" fill="#2a2a50" text-anchor="middle" textLength="62.7" lengthAdjust="spacingAndGlyphs">Middle:Inside Track</text>
<text x="389.00" y="615.80" font-size="7.4" fill="#111" text-anchor="middle" font-weight="normal" >1</text>
<text x="460.3" y="584.7" font-size="5.8" fill="#3a3a20" text-anchor="middle" textLength="41.3" lengthAdjust="spacingAndGlyphs">18L-18R:12R-8R</text>
<text x="460.3" y="600.3" font-size="8.2" fill="#2a2a50" text-anchor="middle" textLength="62.7" lengthAdjust="spacingAndGlyphs">Middle:Middle Track</text>
<text x="460.30" y="615.80" font-size="7.4" fill="#111" text-anchor="middle" font-weight="normal" >1.23</text>
<text x="535.5" y="584.7" font-size="5.8" fill="#3a3a20" text-anchor="middle" textLength="38.4" lengthAdjust="spacingAndGlyphs">18L-18R:7R-3R</text>
<text x="535.5" y="600.3" font-size="8.2" fill="#2a2a50" text-anchor="middle" textLength="66.0" lengthAdjust="spacingAndGlyphs">Middle:Outside Track</text>
<text x="535.50" y="615.80" font-size="7.4" fill="#111" text-anchor="middle" font-weight="normal" >3.63</text>
<path d="M84 621 V728.3 Q84 733.3 89 733.3 H565 Q570 733.3 570 728.3 V621" fill="none" stroke="#c8c8c8" stroke-width="0.9"/>
<line x1="118.97" y1="629" x2="118.97" y2="712.80" stroke="#b4b4b4" stroke-width="0.8" stroke-dasharray="2.2 1.6"/>
<line x1="163.71" y1="629" x2="163.71" y2="712.80" stroke="#b4b4b4" stroke-width="0.8" stroke-dasharray="2.2 1.6"/>
<line x1="174.89" y1="629" x2="174.89" y2="712.80" stroke="#b4b4b4" stroke-width="0.8" stroke-dasharray="2.2 1.6"/>
<line x1="186.08" y1="629" x2="186.08" y2="712.80" stroke="#b4b4b4" stroke-width="0.8" stroke-dasharray="2.2 1.6"/>
<line x1="208.44" y1="629" x2="208.44" y2="712.80" stroke="#b4b4b4" stroke-width="0.8" stroke-dasharray="2.2 1.6"/>
<line x1="219.63" y1="629" x2="219.63" y2="712.80" stroke="#b4b4b4" stroke-width="0.8" stroke-dasharray="2.2 1.6"/>
<line x1="264.37" y1="629" x2="264.37" y2="712.80" stroke="#b4b4b4" stroke-width="0.8" stroke-dasharray="2.2 1.6"/>
<line x1="275.56" y1="629" x2="275.56" y2="712.80" stroke="#b4b4b4" stroke-width="0.8" stroke-dasharray="2.2 1.6"/>
<line x1="286.74" y1="629" x2="286.74" y2="712.80" stroke="#b4b4b4" stroke-width="0.8" stroke-dasharray="2.2 1.6"/>
<line x1="320.30" y1="629" x2="320.30" y2="712.80" stroke="#b4b4b4" stroke-width="0.8" stroke-dasharray="2.2 1.6"/>
<line x1="331.48" y1="629" x2="331.48" y2="712.80" stroke="#b4b4b4" stroke-width="0.8" stroke-dasharray="2.2 1.6"/>
<line x1="342.67" y1="629" x2="342.67" y2="712.80" stroke="#b4b4b4" stroke-width="0.8" stroke-dasharray="2.2 1.6"/>
<line x1="420.96" y1="629" x2="420.96" y2="712.80" stroke="#b4b4b4" stroke-width="0.8" stroke-dasharray="2.2 1.6"/>
<line x1="432.14" y1="629" x2="432.14" y2="712.80" stroke="#b4b4b4" stroke-width="0.8" stroke-dasharray="2.2 1.6"/>
<line x1="443.33" y1="629" x2="443.33" y2="712.80" stroke="#b4b4b4" stroke-width="0.8" stroke-dasharray="2.2 1.6"/>
<line x1="488.07" y1="629" x2="488.07" y2="712.80" stroke="#b4b4b4" stroke-width="0.8" stroke-dasharray="2.2 1.6"/>
<line x1="499.25" y1="629" x2="499.25" y2="712.80" stroke="#b4b4b4" stroke-width="0.8" stroke-dasharray="2.2 1.6"/>
<line x1="510.44" y1="629" x2="510.44" y2="712.80" stroke="#b4b4b4" stroke-width="0.8" stroke-dasharray="2.2 1.6"/>
<line x1="107.5" y1="638.50" x2="561.0" y2="638.50" stroke="#000" stroke-width="1.1" stroke-dasharray="17 1.571 1 1.571 1 1.571 1 1.571 1 1.571 1 1.571 1 1.571" stroke-dashoffset="24.7"/>
<line x1="107.5" y1="647.50" x2="561.0" y2="647.50" stroke="#000" stroke-width="1.1" stroke-dasharray="17 1.571 1 1.571 1 1.571 1 1.571 1 1.571 1 1.571 1 1.571" stroke-dashoffset="24.7"/>
<line x1="107.5" y1="663.50" x2="561.0" y2="663.50" stroke="#000" stroke-width="1.1" stroke-dasharray="17 1.571 1 1.571 1 1.571 1 1.571 1 1.571 1 1.571 1 1.571" stroke-dashoffset="24.7"/>
<line x1="107.5" y1="671.50" x2="561.0" y2="671.50" stroke="#000" stroke-width="1.1" stroke-dasharray="17 1.571 1 1.571 1 1.571 1 1.571 1 1.571 1 1.571 1 1.571" stroke-dashoffset="24.7"/>
<line x1="107.5" y1="696.50" x2="561.0" y2="696.50" stroke="#000" stroke-width="1.1" stroke-dasharray="17 1.571 1 1.571 1 1.571 1 1.571 1 1.571 1 1.571 1 1.571" stroke-dashoffset="24.7"/>
<line x1="107.5" y1="704.50" x2="561.0" y2="704.50" stroke="#000" stroke-width="1.1" stroke-dasharray="17 1.571 1 1.571 1 1.571 1 1.571 1 1.571 1 1.571 1 1.571" stroke-dashoffset="24.7"/>
<rect x="133.15" y="704.31" width="2.20" height="8.49" fill="#e2fdfd" />
<rect x="127.15" y="698.72" width="6.00" height="5.59" fill="#0a0ad6" />
<rect x="127.15" y="704.31" width="6.00" height="8.49" fill="#22c6cc" />
<path d="M127.15 712.80 V698.72 H133.15 V712.80" fill="none" stroke="#000" stroke-width="0.75"/>
<rect x="144.34" y="704.31" width="2.20" height="8.49" fill="#e2fdfd" />
<rect x="138.34" y="698.72" width="6.00" height="5.59" fill="#0a0ad6" />
<rect x="138.34" y="704.31" width="6.00" height="8.49" fill="#22c6cc" />
<path d="M138.34 712.80 V698.72 H144.34 V712.80" fill="none" stroke="#000" stroke-width="0.75"/>
<rect x="155.52" y="704.31" width="2.20" height="8.49" fill="#e2fdfd" />
<rect x="149.52" y="698.72" width="6.00" height="5.59" fill="#0a0ad6" />
<rect x="149.52" y="704.31" width="6.00" height="8.49" fill="#22c6cc" />
<path d="M149.52 712.80 V698.72 H155.52 V712.80" fill="none" stroke="#000" stroke-width="0.75"/>
<rect x="166.71" y="704.31" width="2.20" height="8.49" fill="#e2fdfd" />
<rect x="160.71" y="698.72" width="6.00" height="5.59" fill="#0a0ad6" />
<rect x="160.71" y="704.31" width="6.00" height="8.49" fill="#22c6cc" />
<path d="M160.71 712.80 V698.72 H166.71 V712.80" fill="none" stroke="#000" stroke-width="0.75"/>
<rect x="177.89" y="704.58" width="2.20" height="8.22" fill="#e2fdfd" />
<rect x="171.89" y="696.36" width="6.00" height="8.22" fill="#0a0ad6" />
<rect x="171.89" y="704.58" width="6.00" height="8.22" fill="#22c6cc" />
<path d="M171.89 712.80 V696.36 H177.89 V712.80" fill="none" stroke="#000" stroke-width="0.75"/>
<rect x="189.08" y="701.84" width="2.20" height="10.96" fill="#e2fdfd" />
<rect x="183.08" y="693.07" width="6.00" height="8.77" fill="#0a0ad6" />
<rect x="183.08" y="701.84" width="6.00" height="10.96" fill="#22c6cc" />
<path d="M183.08 712.80 V693.07 H189.08 V712.80" fill="none" stroke="#000" stroke-width="0.75"/>
<rect x="200.26" y="698.83" width="2.20" height="13.97" fill="#e2fdfd" />
<rect x="194.26" y="684.85" width="6.00" height="13.97" fill="#0a0ad6" />
<rect x="194.26" y="698.83" width="6.00" height="13.97" fill="#22c6cc" />
<path d="M194.26 712.80 V684.85 H200.26 V712.80" fill="none" stroke="#000" stroke-width="0.75"/>
<rect x="211.44" y="693.67" width="2.20" height="19.13" fill="#e2fdfd" />
<rect x="205.44" y="668.96" width="6.00" height="24.71" fill="#0a0ad6" />
<rect x="205.44" y="693.67" width="6.00" height="19.13" fill="#22c6cc" />
<path d="M205.44 712.80 V668.96 H211.44 V712.80" fill="none" stroke="#000" stroke-width="0.75"/>
<rect x="222.63" y="693.67" width="2.20" height="19.13" fill="#e2fdfd" />
<rect x="216.63" y="665.89" width="6.00" height="27.78" fill="#0a0ad6" />
<rect x="216.63" y="693.67" width="6.00" height="19.13" fill="#22c6cc" />
<path d="M216.63 712.80 V665.89 H222.63 V712.80" fill="none" stroke="#000" stroke-width="0.75"/>
<rect x="233.81" y="687.48" width="2.20" height="25.32" fill="#e2fdfd" />
<rect x="227.81" y="659.92" width="6.00" height="27.56" fill="#0a0ad6" />
<rect x="227.81" y="687.48" width="6.00" height="25.32" fill="#22c6cc" />
<path d="M227.81 712.80 V659.92 H233.81 V712.80" fill="none" stroke="#000" stroke-width="0.75"/>
<rect x="245.00" y="684.74" width="2.20" height="28.06" fill="#e2fdfd" />
<rect x="239.00" y="656.96" width="6.00" height="27.78" fill="#0a0ad6" />
<rect x="239.00" y="684.74" width="6.00" height="28.06" fill="#22c6cc" />
<path d="M239.00 712.80 V656.96 H245.00 V712.80" fill="none" stroke="#000" stroke-width="0.75"/>
<rect x="256.19" y="684.74" width="2.20" height="28.06" fill="#e2fdfd" />
<rect x="250.19" y="656.96" width="6.00" height="27.78" fill="#0a0ad6" />
<rect x="250.19" y="684.74" width="6.00" height="28.06" fill="#22c6cc" />
<path d="M250.19 712.80 V656.96 H256.19 V712.80" fill="none" stroke="#000" stroke-width="0.75"/>
<rect x="267.37" y="684.74" width="2.20" height="28.06" fill="#e2fdfd" />
<rect x="261.37" y="656.96" width="6.00" height="27.78" fill="#0a0ad6" />
<rect x="261.37" y="684.74" width="6.00" height="28.06" fill="#22c6cc" />
<path d="M261.37 712.80 V656.96 H267.37 V712.80" fill="none" stroke="#000" stroke-width="0.75"/>
<rect x="278.56" y="684.74" width="2.20" height="28.06" fill="#e2fdfd" />
<rect x="272.56" y="656.96" width="6.00" height="27.78" fill="#0a0ad6" />
<rect x="272.56" y="684.74" width="6.00" height="28.06" fill="#22c6cc" />
<path d="M272.56 712.80 V656.96 H278.56 V712.80" fill="none" stroke="#000" stroke-width="0.75"/>
<rect x="289.74" y="684.74" width="2.20" height="28.06" fill="#e2fdfd" />
<rect x="283.74" y="656.96" width="6.00" height="27.78" fill="#0a0ad6" />
<rect x="283.74" y="684.74" width="6.00" height="28.06" fill="#22c6cc" />
<path d="M283.74 712.80 V656.96 H289.74 V712.80" fill="none" stroke="#000" stroke-width="0.75"/>
<rect x="300.93" y="684.74" width="2.20" height="28.06" fill="#e2fdfd" />
<rect x="294.93" y="656.96" width="6.00" height="27.78" fill="#0a0ad6" />
<rect x="294.93" y="684.74" width="6.00" height="28.06" fill="#22c6cc" />
<path d="M294.93 712.80 V656.96 H300.93 V712.80" fill="none" stroke="#000" stroke-width="0.75"/>
<rect x="312.11" y="684.74" width="2.20" height="28.06" fill="#e2fdfd" />
<rect x="306.11" y="656.96" width="6.00" height="27.78" fill="#0a0ad6" />
<rect x="306.11" y="684.74" width="6.00" height="28.06" fill="#22c6cc" />
<path d="M306.11 712.80 V656.96 H312.11 V712.80" fill="none" stroke="#000" stroke-width="0.75"/>
<rect x="323.30" y="684.74" width="2.20" height="28.06" fill="#e2fdfd" />
<rect x="317.30" y="656.96" width="6.00" height="27.78" fill="#0a0ad6" />
<rect x="317.30" y="684.74" width="6.00" height="28.06" fill="#22c6cc" />
<path d="M317.30 712.80 V656.96 H323.30 V712.80" fill="none" stroke="#000" stroke-width="0.75"/>
<rect x="334.48" y="684.74" width="2.20" height="28.06" fill="#e2fdfd" />
<rect x="328.48" y="656.96" width="6.00" height="27.78" fill="#0a0ad6" />
<rect x="328.48" y="684.74" width="6.00" height="28.06" fill="#22c6cc" />
<path d="M328.48 712.80 V656.96 H334.48 V712.80" fill="none" stroke="#000" stroke-width="0.75"/>
<rect x="345.67" y="684.74" width="2.20" height="28.06" fill="#e2fdfd" />
<rect x="339.67" y="656.96" width="6.00" height="27.78" fill="#0a0ad6" />
<rect x="339.67" y="684.74" width="6.00" height="28.06" fill="#22c6cc" />
<path d="M339.67 712.80 V656.96 H345.67 V712.80" fill="none" stroke="#000" stroke-width="0.75"/>
<rect x="356.85" y="684.74" width="2.20" height="28.06" fill="#e2fdfd" />
<rect x="350.85" y="656.96" width="6.00" height="27.78" fill="#0a0ad6" />
<rect x="350.85" y="684.74" width="6.00" height="28.06" fill="#22c6cc" />
<path d="M350.85 712.80 V656.96 H356.85 V712.80" fill="none" stroke="#000" stroke-width="0.75"/>
<rect x="368.04" y="684.74" width="2.20" height="28.06" fill="#e2fdfd" />
<rect x="362.04" y="656.96" width="6.00" height="27.78" fill="#0a0ad6" />
<rect x="362.04" y="684.74" width="6.00" height="28.06" fill="#22c6cc" />
<path d="M362.04 712.80 V656.96 H368.04 V712.80" fill="none" stroke="#000" stroke-width="0.75"/>
<rect x="379.22" y="684.74" width="2.20" height="28.06" fill="#e2fdfd" />
<rect x="373.22" y="656.96" width="6.00" height="27.78" fill="#0a0ad6" />
<rect x="373.22" y="684.74" width="6.00" height="28.06" fill="#22c6cc" />
<path d="M373.22 712.80 V656.96 H379.22 V712.80" fill="none" stroke="#000" stroke-width="0.75"/>
<rect x="390.40" y="684.74" width="2.20" height="28.06" fill="#e2fdfd" />
<rect x="384.40" y="656.96" width="6.00" height="27.78" fill="#0a0ad6" />
<rect x="384.40" y="684.74" width="6.00" height="28.06" fill="#22c6cc" />
<path d="M384.40 712.80 V656.96 H390.40 V712.80" fill="none" stroke="#000" stroke-width="0.75"/>
<rect x="401.59" y="684.74" width="2.20" height="28.06" fill="#e2fdfd" />
<rect x="395.59" y="656.96" width="6.00" height="27.78" fill="#0a0ad6" />
<rect x="395.59" y="684.74" width="6.00" height="28.06" fill="#22c6cc" />
<path d="M395.59 712.80 V656.96 H401.59 V712.80" fill="none" stroke="#000" stroke-width="0.75"/>
<rect x="412.77" y="684.74" width="2.20" height="28.06" fill="#e2fdfd" />
<rect x="406.77" y="656.96" width="6.00" height="27.78" fill="#0a0ad6" />
<rect x="406.77" y="684.74" width="6.00" height="28.06" fill="#22c6cc" />
<path d="M406.77 712.80 V656.96 H412.77 V712.80" fill="none" stroke="#000" stroke-width="0.75"/>
<rect x="423.96" y="684.74" width="2.20" height="28.06" fill="#e2fdfd" />
<rect x="417.96" y="656.96" width="6.00" height="27.78" fill="#0a0ad6" />
<rect x="417.96" y="684.74" width="6.00" height="28.06" fill="#22c6cc" />
<path d="M417.96 712.80 V656.96 H423.96 V712.80" fill="none" stroke="#000" stroke-width="0.75"/>
<rect x="435.14" y="687.48" width="2.20" height="25.32" fill="#e2fdfd" />
<rect x="429.14" y="659.92" width="6.00" height="27.56" fill="#0a0ad6" />
<rect x="429.14" y="687.48" width="6.00" height="25.32" fill="#22c6cc" />
<path d="M429.14 712.80 V659.92 H435.14 V712.80" fill="none" stroke="#000" stroke-width="0.75"/>
<rect x="446.33" y="693.67" width="2.20" height="19.13" fill="#e2fdfd" />
<rect x="440.33" y="665.89" width="6.00" height="27.78" fill="#0a0ad6" />
<rect x="440.33" y="693.67" width="6.00" height="19.13" fill="#22c6cc" />
<path d="M440.33 712.80 V665.89 H446.33 V712.80" fill="none" stroke="#000" stroke-width="0.75"/>
<rect x="457.51" y="693.67" width="2.20" height="19.13" fill="#e2fdfd" />
<rect x="451.51" y="668.96" width="6.00" height="24.71" fill="#0a0ad6" />
<rect x="451.51" y="693.67" width="6.00" height="19.13" fill="#22c6cc" />
<path d="M451.51 712.80 V668.96 H457.51 V712.80" fill="none" stroke="#000" stroke-width="0.75"/>
<rect x="468.70" y="698.83" width="2.20" height="13.97" fill="#e2fdfd" />
<rect x="462.70" y="684.85" width="6.00" height="13.97" fill="#0a0ad6" />
<rect x="462.70" y="698.83" width="6.00" height="13.97" fill="#22c6cc" />
<path d="M462.70 712.80 V684.85 H468.70 V712.80" fill="none" stroke="#000" stroke-width="0.75"/>
<rect x="479.88" y="701.84" width="2.20" height="10.96" fill="#e2fdfd" />
<rect x="473.88" y="693.07" width="6.00" height="8.77" fill="#0a0ad6" />
<rect x="473.88" y="701.84" width="6.00" height="10.96" fill="#22c6cc" />
<path d="M473.88 712.80 V693.07 H479.88 V712.80" fill="none" stroke="#000" stroke-width="0.75"/>
<rect x="491.07" y="704.58" width="2.20" height="8.22" fill="#e2fdfd" />
<rect x="485.07" y="696.36" width="6.00" height="8.22" fill="#0a0ad6" />
<rect x="485.07" y="704.58" width="6.00" height="8.22" fill="#22c6cc" />
<path d="M485.07 712.80 V696.36 H491.07 V712.80" fill="none" stroke="#000" stroke-width="0.75"/>
<rect x="502.25" y="704.31" width="2.20" height="8.49" fill="#e2fdfd" />
<rect x="496.25" y="698.72" width="6.00" height="5.59" fill="#0a0ad6" />
<rect x="496.25" y="704.31" width="6.00" height="8.49" fill="#22c6cc" />
<path d="M496.25 712.80 V698.72 H502.25 V712.80" fill="none" stroke="#000" stroke-width="0.75"/>
<rect x="513.44" y="704.31" width="2.20" height="8.49" fill="#e2fdfd" />
<rect x="507.44" y="698.72" width="6.00" height="5.59" fill="#0a0ad6" />
<rect x="507.44" y="704.31" width="6.00" height="8.49" fill="#22c6cc" />
<path d="M507.44 712.80 V698.72 H513.44 V712.80" fill="none" stroke="#000" stroke-width="0.75"/>
<rect x="524.62" y="704.31" width="2.20" height="8.49" fill="#e2fdfd" />
<rect x="518.62" y="698.72" width="6.00" height="5.59" fill="#0a0ad6" />
<rect x="518.62" y="704.31" width="6.00" height="8.49" fill="#22c6cc" />
<path d="M518.62 712.80 V698.72 H524.62 V712.80" fill="none" stroke="#000" stroke-width="0.75"/>
<rect x="535.81" y="704.31" width="2.20" height="8.49" fill="#e2fdfd" />
<rect x="529.81" y="698.72" width="6.00" height="5.59" fill="#0a0ad6" />
<rect x="529.81" y="704.31" width="6.00" height="8.49" fill="#22c6cc" />
<path d="M529.81 712.80 V698.72 H535.81 V712.80" fill="none" stroke="#000" stroke-width="0.75"/>
<line x1="107.50" y1="630.60" x2="107.50" y2="713.30" stroke="#333" stroke-width="1" />
<line x1="107.50" y1="712.80" x2="560.40" y2="712.80" stroke="#333" stroke-width="1" />
<line x1="104.30" y1="712.80" x2="107.50" y2="712.80" stroke="#333" stroke-width="1" />
<text x="103.00" y="714.40" font-size="4.6" fill="#222" text-anchor="end" font-weight="bold" textLength="2.3" lengthAdjust="spacingAndGlyphs">0</text>
<line x1="104.30" y1="704.58" x2="107.50" y2="704.58" stroke="#333" stroke-width="1" />
<text x="103.00" y="706.18" font-size="4.6" fill="#222" text-anchor="end" font-weight="bold" textLength="6.9" lengthAdjust="spacingAndGlyphs">150</text>
<line x1="104.30" y1="696.36" x2="107.50" y2="696.36" stroke="#333" stroke-width="1" />
<text x="103.00" y="697.96" font-size="4.6" fill="#222" text-anchor="end" font-weight="bold" textLength="6.9" lengthAdjust="spacingAndGlyphs">300</text>
<line x1="104.30" y1="688.14" x2="107.50" y2="688.14" stroke="#333" stroke-width="1" />
<text x="103.00" y="689.74" font-size="4.6" fill="#222" text-anchor="end" font-weight="bold" textLength="6.9" lengthAdjust="spacingAndGlyphs">450</text>
<line x1="104.30" y1="679.92" x2="107.50" y2="679.92" stroke="#333" stroke-width="1" />
<text x="103.00" y="681.52" font-size="4.6" fill="#222" text-anchor="end" font-weight="bold" textLength="6.9" lengthAdjust="spacingAndGlyphs">600</text>
<line x1="104.30" y1="671.70" x2="107.50" y2="671.70" stroke="#333" stroke-width="1" />
<text x="103.00" y="673.30" font-size="4.6" fill="#222" text-anchor="end" font-weight="bold" textLength="6.9" lengthAdjust="spacingAndGlyphs">750</text>
<line x1="104.30" y1="663.48" x2="107.50" y2="663.48" stroke="#333" stroke-width="1" />
<text x="103.00" y="665.08" font-size="4.6" fill="#222" text-anchor="end" font-weight="bold" textLength="6.9" lengthAdjust="spacingAndGlyphs">900</text>
<line x1="104.30" y1="655.26" x2="107.50" y2="655.26" stroke="#333" stroke-width="1" />
<text x="103.00" y="656.86" font-size="4.6" fill="#222" text-anchor="end" font-weight="bold" textLength="9.2" lengthAdjust="spacingAndGlyphs">1050</text>
<line x1="104.30" y1="647.04" x2="107.50" y2="647.04" stroke="#333" stroke-width="1" />
<text x="103.00" y="648.64" font-size="4.6" fill="#222" text-anchor="end" font-weight="bold" textLength="9.2" lengthAdjust="spacingAndGlyphs">1200</text>
<line x1="104.30" y1="638.82" x2="107.50" y2="638.82" stroke="#333" stroke-width="1" />
<text x="103.00" y="640.42" font-size="4.6" fill="#222" text-anchor="end" font-weight="bold" textLength="9.2" lengthAdjust="spacingAndGlyphs">1350</text>
<line x1="104.30" y1="630.60" x2="107.50" y2="630.60" stroke="#333" stroke-width="1" />
<text x="103.00" y="632.20" font-size="4.6" fill="#222" text-anchor="end" font-weight="bold" textLength="9.2" lengthAdjust="spacingAndGlyphs">1500</text>
<line x1="118.97" y1="712.80" x2="118.97" y2="716.30" stroke="#333" stroke-width="0.9" />
<text x="118.97" y="724.20" font-size="4.6" fill="#111" font-weight="bold" text-anchor="middle" textLength="2.2" lengthAdjust="spacingAndGlyphs">1</text>
<line x1="130.15" y1="712.80" x2="130.15" y2="716.30" stroke="#333" stroke-width="0.9" />
<text x="130.15" y="724.20" font-size="4.6" fill="#111" font-weight="bold" text-anchor="middle" textLength="2.2" lengthAdjust="spacingAndGlyphs">2</text>
<line x1="141.34" y1="712.80" x2="141.34" y2="716.30" stroke="#333" stroke-width="0.9" />
<text x="141.34" y="724.20" font-size="4.6" fill="#111" font-weight="bold" text-anchor="middle" textLength="2.2" lengthAdjust="spacingAndGlyphs">3</text>
<line x1="152.52" y1="712.80" x2="152.52" y2="716.30" stroke="#333" stroke-width="0.9" />
<text x="152.52" y="724.20" font-size="4.6" fill="#111" font-weight="bold" text-anchor="middle" textLength="2.2" lengthAdjust="spacingAndGlyphs">4</text>
<line x1="163.71" y1="712.80" x2="163.71" y2="716.30" stroke="#333" stroke-width="0.9" />
<text x="163.71" y="724.20" font-size="4.6" fill="#111" font-weight="bold" text-anchor="middle" textLength="2.2" lengthAdjust="spacingAndGlyphs">5</text>
<line x1="174.89" y1="712.80" x2="174.89" y2="716.30" stroke="#333" stroke-width="0.9" />
<text x="174.89" y="724.20" font-size="4.6" fill="#111" font-weight="bold" text-anchor="middle" textLength="2.2" lengthAdjust="spacingAndGlyphs">6</text>
<line x1="186.08" y1="712.80" x2="186.08" y2="716.30" stroke="#333" stroke-width="0.9" />
<text x="186.08" y="724.20" font-size="4.6" fill="#111" font-weight="bold" text-anchor="middle" textLength="2.2" lengthAdjust="spacingAndGlyphs">7</text>
<line x1="197.26" y1="712.80" x2="197.26" y2="716.30" stroke="#333" stroke-width="0.9" />
<text x="197.26" y="724.20" font-size="4.6" fill="#111" font-weight="bold" text-anchor="middle" textLength="2.2" lengthAdjust="spacingAndGlyphs">8</text>
<line x1="208.44" y1="712.80" x2="208.44" y2="716.30" stroke="#333" stroke-width="0.9" />
<text x="208.44" y="724.20" font-size="4.6" fill="#111" font-weight="bold" text-anchor="middle" textLength="2.2" lengthAdjust="spacingAndGlyphs">9</text>
<line x1="219.63" y1="712.80" x2="219.63" y2="716.30" stroke="#333" stroke-width="0.9" />
<text x="219.63" y="724.20" font-size="4.6" fill="#111" font-weight="bold" text-anchor="middle" textLength="4.4" lengthAdjust="spacingAndGlyphs">10</text>
<line x1="230.81" y1="712.80" x2="230.81" y2="716.30" stroke="#333" stroke-width="0.9" />
<text x="230.81" y="724.20" font-size="4.6" fill="#111" font-weight="bold" text-anchor="middle" textLength="4.4" lengthAdjust="spacingAndGlyphs">11</text>
<line x1="242.00" y1="712.80" x2="242.00" y2="716.30" stroke="#333" stroke-width="0.9" />
<text x="242.00" y="724.20" font-size="4.6" fill="#111" font-weight="bold" text-anchor="middle" textLength="4.4" lengthAdjust="spacingAndGlyphs">12</text>
<line x1="253.19" y1="712.80" x2="253.19" y2="716.30" stroke="#333" stroke-width="0.9" />
<text x="253.19" y="724.20" font-size="4.6" fill="#111" font-weight="bold" text-anchor="middle" textLength="4.4" lengthAdjust="spacingAndGlyphs">13</text>
<line x1="264.37" y1="712.80" x2="264.37" y2="716.30" stroke="#333" stroke-width="0.9" />
<text x="264.37" y="724.20" font-size="4.6" fill="#111" font-weight="bold" text-anchor="middle" textLength="4.4" lengthAdjust="spacingAndGlyphs">14</text>
<line x1="275.56" y1="712.80" x2="275.56" y2="716.30" stroke="#333" stroke-width="0.9" />
<text x="275.56" y="724.20" font-size="4.6" fill="#111" font-weight="bold" text-anchor="middle" textLength="4.4" lengthAdjust="spacingAndGlyphs">15</text>
<line x1="286.74" y1="712.80" x2="286.74" y2="716.30" stroke="#333" stroke-width="0.9" />
<text x="286.74" y="724.20" font-size="4.6" fill="#111" font-weight="bold" text-anchor="middle" textLength="4.4" lengthAdjust="spacingAndGlyphs">16</text>
<line x1="297.93" y1="712.80" x2="297.93" y2="716.30" stroke="#333" stroke-width="0.9" />
<text x="297.93" y="724.20" font-size="4.6" fill="#111" font-weight="bold" text-anchor="middle" textLength="4.4" lengthAdjust="spacingAndGlyphs">17</text>
<line x1="309.11" y1="712.80" x2="309.11" y2="716.30" stroke="#333" stroke-width="0.9" />
<text x="309.11" y="724.20" font-size="4.6" fill="#111" font-weight="bold" text-anchor="middle" textLength="4.4" lengthAdjust="spacingAndGlyphs">18</text>
<line x1="320.30" y1="712.80" x2="320.30" y2="716.30" stroke="#333" stroke-width="0.9" />
<text x="320.30" y="724.20" font-size="4.6" fill="#111" font-weight="bold" text-anchor="middle" textLength="4.4" lengthAdjust="spacingAndGlyphs">19</text>
<line x1="331.48" y1="712.80" x2="331.48" y2="716.30" stroke="#333" stroke-width="0.9" />
<text x="331.48" y="724.20" font-size="4.6" fill="#111" font-weight="bold" text-anchor="middle" textLength="4.4" lengthAdjust="spacingAndGlyphs">20</text>
<line x1="342.67" y1="712.80" x2="342.67" y2="716.30" stroke="#333" stroke-width="0.9" />
<text x="342.67" y="724.20" font-size="4.6" fill="#111" font-weight="bold" text-anchor="middle" textLength="4.4" lengthAdjust="spacingAndGlyphs">19</text>
<line x1="353.85" y1="712.80" x2="353.85" y2="716.30" stroke="#333" stroke-width="0.9" />
<text x="353.85" y="724.20" font-size="4.6" fill="#111" font-weight="bold" text-anchor="middle" textLength="4.4" lengthAdjust="spacingAndGlyphs">18</text>
<line x1="365.04" y1="712.80" x2="365.04" y2="716.30" stroke="#333" stroke-width="0.9" />
<text x="365.04" y="724.20" font-size="4.6" fill="#111" font-weight="bold" text-anchor="middle" textLength="4.4" lengthAdjust="spacingAndGlyphs">17</text>
<line x1="376.22" y1="712.80" x2="376.22" y2="716.30" stroke="#333" stroke-width="0.9" />
<text x="376.22" y="724.20" font-size="4.6" fill="#111" font-weight="bold" text-anchor="middle" textLength="4.4" lengthAdjust="spacingAndGlyphs">16</text>
<line x1="387.40" y1="712.80" x2="387.40" y2="716.30" stroke="#333" stroke-width="0.9" />
<text x="387.40" y="724.20" font-size="4.6" fill="#111" font-weight="bold" text-anchor="middle" textLength="4.4" lengthAdjust="spacingAndGlyphs">15</text>
<line x1="398.59" y1="712.80" x2="398.59" y2="716.30" stroke="#333" stroke-width="0.9" />
<text x="398.59" y="724.20" font-size="4.6" fill="#111" font-weight="bold" text-anchor="middle" textLength="4.4" lengthAdjust="spacingAndGlyphs">14</text>
<line x1="409.77" y1="712.80" x2="409.77" y2="716.30" stroke="#333" stroke-width="0.9" />
<text x="409.77" y="724.20" font-size="4.6" fill="#111" font-weight="bold" text-anchor="middle" textLength="4.4" lengthAdjust="spacingAndGlyphs">13</text>
<line x1="420.96" y1="712.80" x2="420.96" y2="716.30" stroke="#333" stroke-width="0.9" />
<text x="420.96" y="724.20" font-size="4.6" fill="#111" font-weight="bold" text-anchor="middle" textLength="4.4" lengthAdjust="spacingAndGlyphs">12</text>
<line x1="432.14" y1="712.80" x2="432.14" y2="716.30" stroke="#333" stroke-width="0.9" />
<text x="432.14" y="724.20" font-size="4.6" fill="#111" font-weight="bold" text-anchor="middle" textLength="4.4" lengthAdjust="spacingAndGlyphs">11</text>
<line x1="443.33" y1="712.80" x2="443.33" y2="716.30" stroke="#333" stroke-width="0.9" />
<text x="443.33" y="724.20" font-size="4.6" fill="#111" font-weight="bold" text-anchor="middle" textLength="4.4" lengthAdjust="spacingAndGlyphs">10</text>
<line x1="454.51" y1="712.80" x2="454.51" y2="716.30" stroke="#333" stroke-width="0.9" />
<text x="454.51" y="724.20" font-size="4.6" fill="#111" font-weight="bold" text-anchor="middle" textLength="2.2" lengthAdjust="spacingAndGlyphs">9</text>
<line x1="465.70" y1="712.80" x2="465.70" y2="716.30" stroke="#333" stroke-width="0.9" />
<text x="465.70" y="724.20" font-size="4.6" fill="#111" font-weight="bold" text-anchor="middle" textLength="2.2" lengthAdjust="spacingAndGlyphs">8</text>
<line x1="476.88" y1="712.80" x2="476.88" y2="716.30" stroke="#333" stroke-width="0.9" />
<text x="476.88" y="724.20" font-size="4.6" fill="#111" font-weight="bold" text-anchor="middle" textLength="2.2" lengthAdjust="spacingAndGlyphs">7</text>
<line x1="488.07" y1="712.80" x2="488.07" y2="716.30" stroke="#333" stroke-width="0.9" />
<text x="488.07" y="724.20" font-size="4.6" fill="#111" font-weight="bold" text-anchor="middle" textLength="2.2" lengthAdjust="spacingAndGlyphs">6</text>
<line x1="499.25" y1="712.80" x2="499.25" y2="716.30" stroke="#333" stroke-width="0.9" />
<text x="499.25" y="724.20" font-size="4.6" fill="#111" font-weight="bold" text-anchor="middle" textLength="2.2" lengthAdjust="spacingAndGlyphs">5</text>
<line x1="510.44" y1="712.80" x2="510.44" y2="716.30" stroke="#333" stroke-width="0.9" />
<text x="510.44" y="724.20" font-size="4.6" fill="#111" font-weight="bold" text-anchor="middle" textLength="2.2" lengthAdjust="spacingAndGlyphs">4</text>
<line x1="521.62" y1="712.80" x2="521.62" y2="716.30" stroke="#333" stroke-width="0.9" />
<text x="521.62" y="724.20" font-size="4.6" fill="#111" font-weight="bold" text-anchor="middle" textLength="2.2" lengthAdjust="spacingAndGlyphs">3</text>
<line x1="532.81" y1="712.80" x2="532.81" y2="716.30" stroke="#333" stroke-width="0.9" />
<text x="532.81" y="724.20" font-size="4.6" fill="#111" font-weight="bold" text-anchor="middle" textLength="2.2" lengthAdjust="spacingAndGlyphs">2</text>
<line x1="544.00" y1="712.80" x2="544.00" y2="716.30" stroke="#333" stroke-width="0.9" />
<text x="544.00" y="724.20" font-size="4.6" fill="#111" font-weight="bold" text-anchor="middle" textLength="2.2" lengthAdjust="spacingAndGlyphs">1</text>
<text x="81.6" y="86.0" font-size="21.6" font-weight="900" fill="#111" stroke="#111" stroke-width="1.5" textLength="42.6" lengthAdjust="spacingAndGlyphs" font-family="Liberation Sans, sans-serif">FLE</text>
<polygon points="126.3,70.4 132.8,70.4 137.0,78.4 130.6,78.4" fill="#e8782a"/>
<polygon points="130.6,78.4 137.0,78.4 145.6,86.4 138.6,86.4" fill="#6a1812"/>
<polygon points="139.0,70.4 145.6,70.4 138.0,78.4 132.0,78.4" fill="#a3301f"/>
<polygon points="132.0,78.4 138.0,78.4 132.0,86.4 125.8,86.4" fill="#f2a53c"/>
<polygon points="130.6,78.4 137.0,78.4 140.5,82.0 134.3,82.0" fill="#7a2016"/>
<path d="M547.0 52.2 C547.8 57 550 62 553.2 66.2 C555.5 69 558 71 560.8 72.2 L563.6 72.2 L563.4 68.5 C562.5 66 561 64 559.2 61.8 C556.5 58.8 552 56 547.0 52.2 Z" fill="#f2a232"/>
<path d="M586.8 52.4 C586.3 57.5 584.5 62 581.8 66.2 C579.5 69.2 576.5 71.2 573.2 72.2 L569.8 72.2 L570.2 68.5 C571.2 66 572.8 64 574.8 62 C577.8 59 582 56.5 586.8 52.4 Z" fill="#f2a232"/>
<path d="M561.8 60.0 C563.6 59.4 565.6 60.4 566.8 62.2 L569.6 66.5 L570.4 72.2 L563.2 72.2 L563.0 66.8 C563.2 64.5 563.0 61.8 561.8 60.0 Z" fill="#f2a232"/>
<path d="M562.6 60.6 C564.2 60.3 565.4 61.3 566.0 62.4" fill="none" stroke="#fbe3c0" stroke-width="0.6"/>
<rect x="560.2" y="71.5" width="13.6" height="9" fill="#f2a232"/>
<path d="M561.6 80.2 L572.4 80.2 C573.5 83 575.5 85.5 580.4 87.0 C576 88.6 570 88.8 567.2 88.8 C564 88.8 558.5 88.6 554.4 87.0 C559 85.5 560.8 83 561.6 80.2 Z" fill="#f2a232"/>
<text x="567.6" y="79.9" font-size="10.6" fill="#ffffff" stroke="#8c8c8c" stroke-width="0.3" text-anchor="middle" textLength="36.6" lengthAdjust="spacingAndGlyphs">KEGEL</text>
<text x="566.7" y="94.9" font-size="4.4" font-weight="bold" fill="#000" stroke="#000" stroke-width="0.45" text-anchor="middle" textLength="29.8" lengthAdjust="spacingAndGlyphs">BUILT FOR BOWLERS</text>
</svg>
</body></html>
